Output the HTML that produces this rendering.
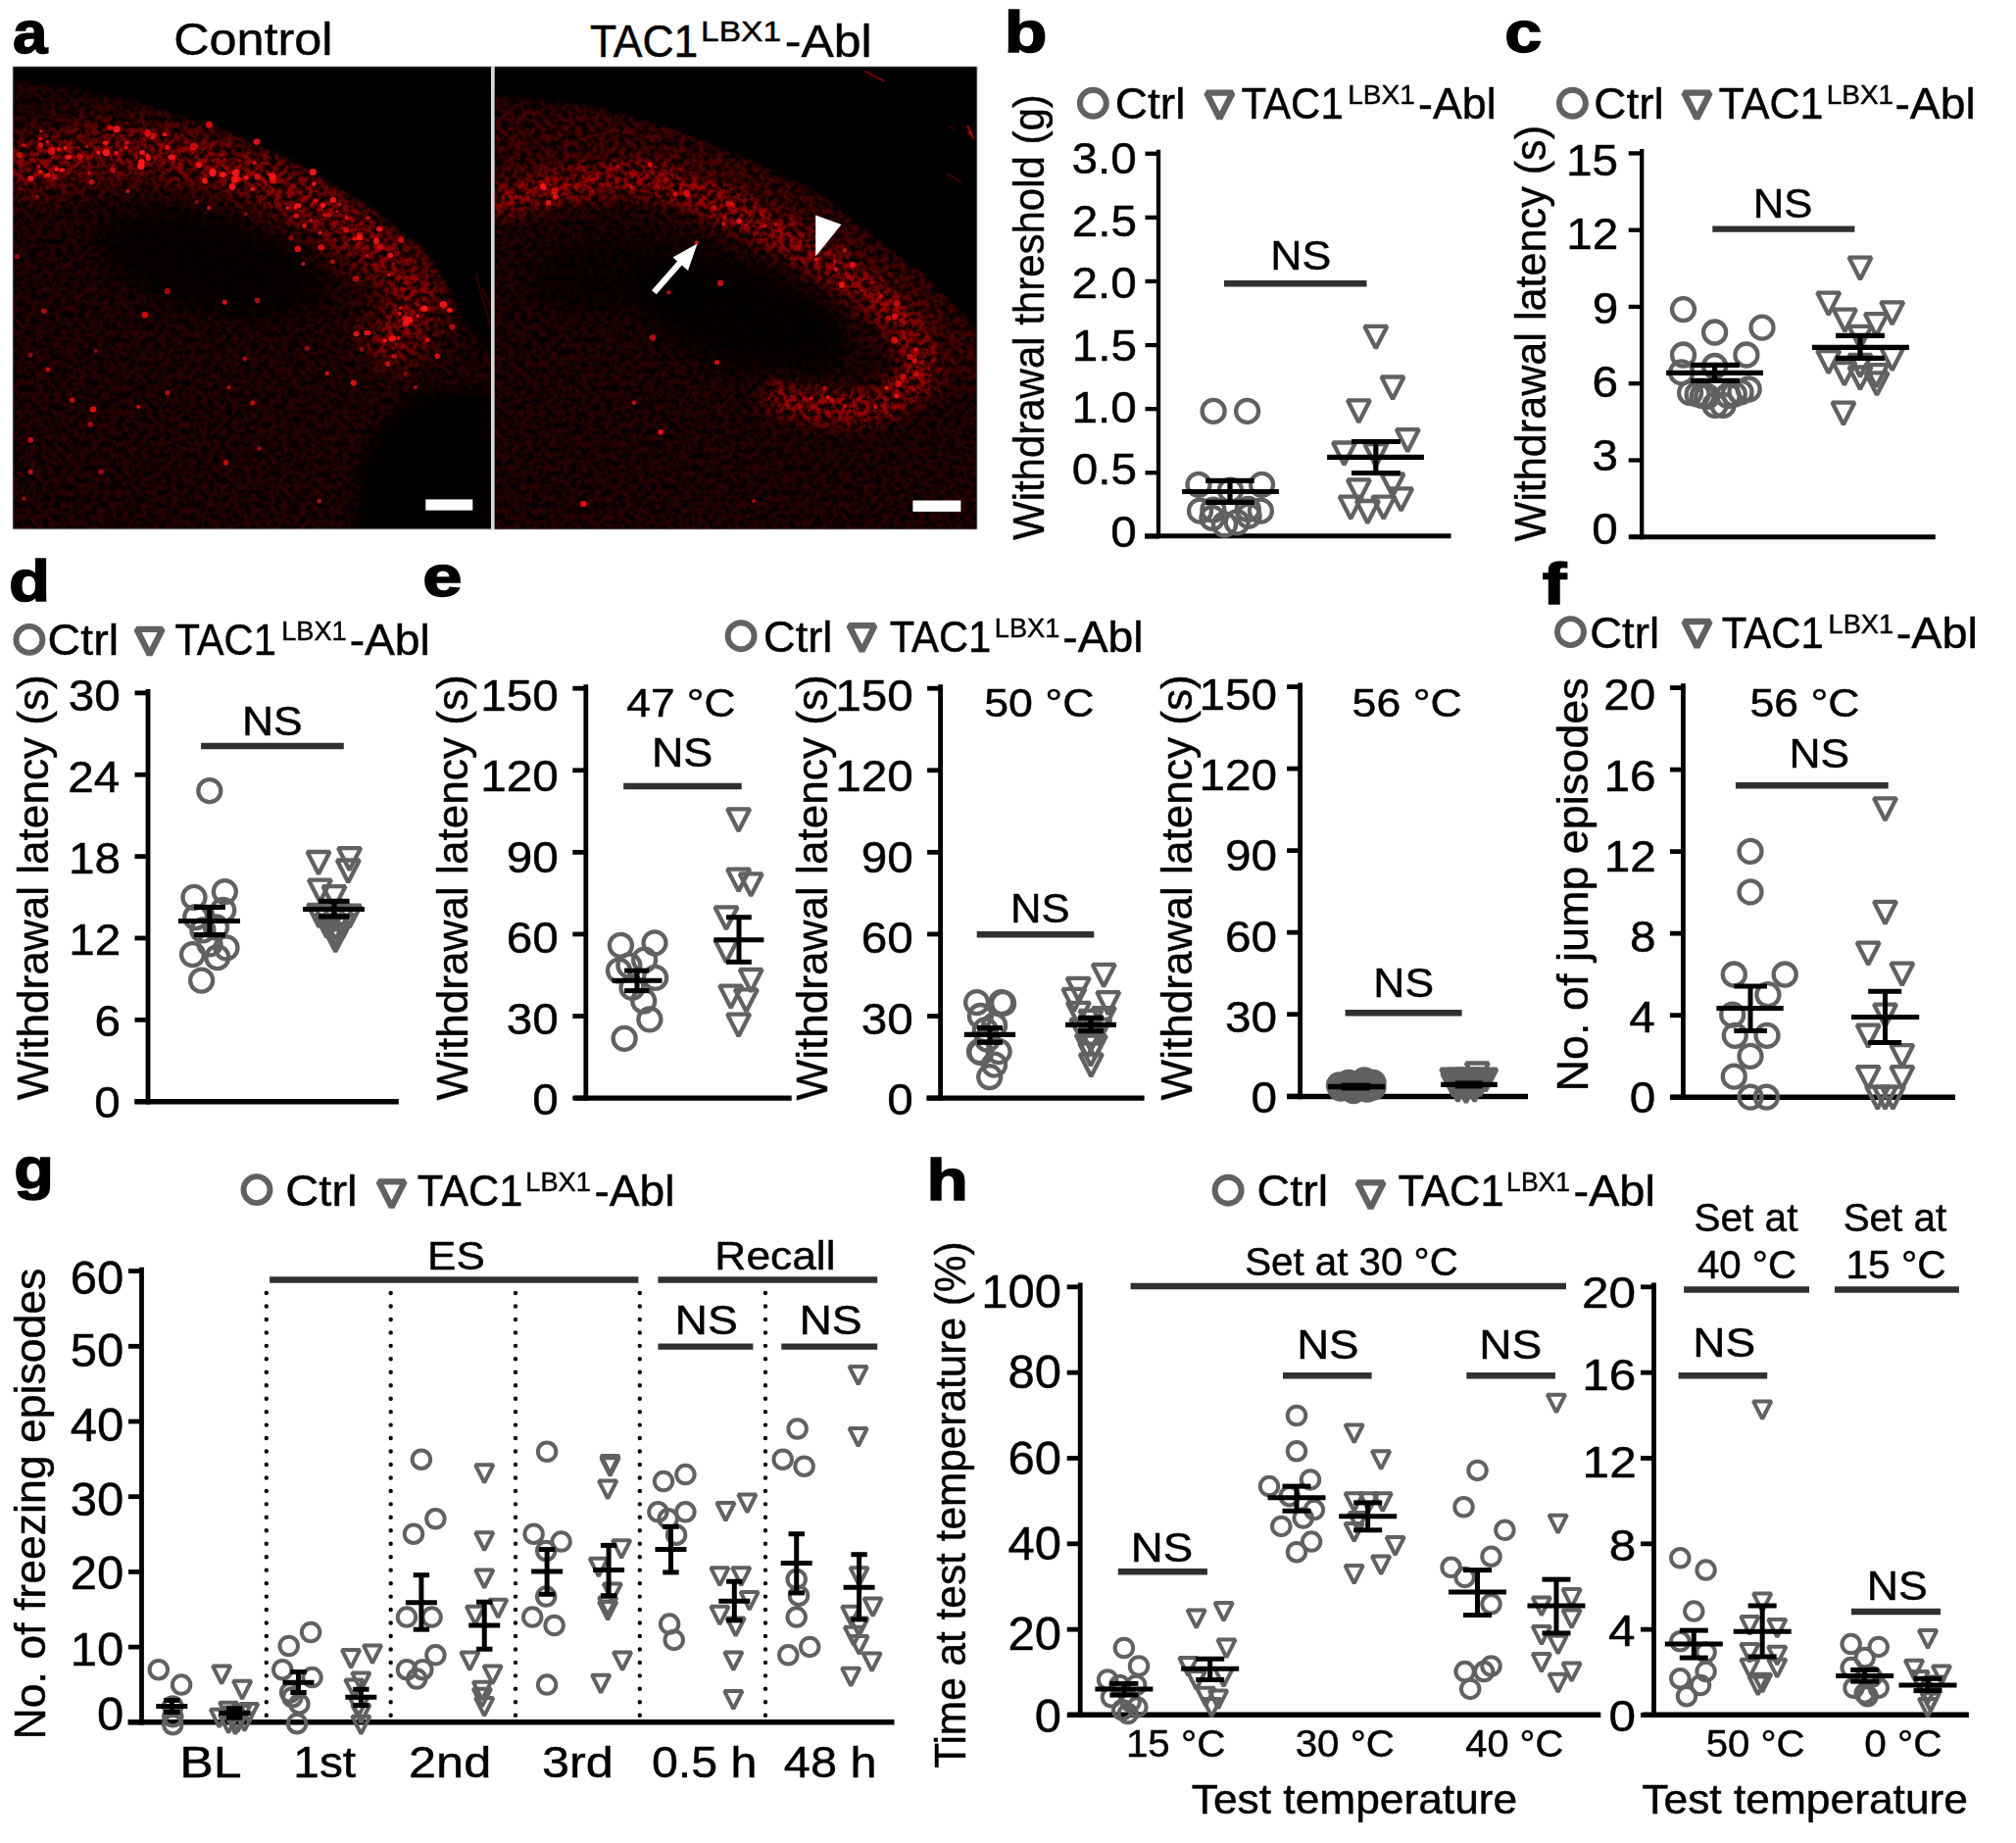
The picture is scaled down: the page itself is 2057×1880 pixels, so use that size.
<!DOCTYPE html>
<html><head><meta charset="utf-8"><title>Figure</title>
<style>html,body{margin:0;padding:0;background:#fff}svg{display:block}text{stroke:#000;stroke-width:.45px}</style>
</head><body>
<svg width="2057" height="1880" viewBox="0 0 2057 1880" font-family="'Liberation Sans', sans-serif">
<rect width="2057" height="1880" fill="#fff"/>
<text x="13.13" y="53.80" font-size="62.00" textLength="35.46" lengthAdjust="spacingAndGlyphs" font-weight="bold" fill="#000" style="stroke:#000;stroke-width:1.5px">a</text>
<text x="177.24" y="56.20" font-size="47.00" textLength="162.33" lengthAdjust="spacingAndGlyphs" fill="#000">Control</text>
<text x="601.93" y="57.70" font-size="47.00" textLength="110.38" lengthAdjust="spacingAndGlyphs" fill="#000">TAC1</text>
<text x="715.05" y="41.50" font-size="29.00" textLength="82.09" lengthAdjust="spacingAndGlyphs" fill="#000">LBX1</text>
<text x="800.88" y="57.70" font-size="47.00" textLength="88.86" lengthAdjust="spacingAndGlyphs" fill="#000">-Abl</text>
<defs>
<filter id="bl4" x="-20%" y="-20%" width="140%" height="140%"><feGaussianBlur stdDeviation="4"/></filter>
<filter id="bl8" x="-30%" y="-30%" width="160%" height="160%"><feGaussianBlur stdDeviation="8"/></filter>
<filter id="bl14" x="-40%" y="-40%" width="180%" height="180%"><feGaussianBlur stdDeviation="14"/></filter>
<filter id="bl1"><feGaussianBlur stdDeviation="0.7"/></filter>
<filter id="tex" filterUnits="userSpaceOnUse" x="0" y="60" width="1010" height="490" color-interpolation-filters="sRGB">
 <feTurbulence type="fractalNoise" baseFrequency="0.16" numOctaves="3" seed="7" result="n"/>
 <feColorMatrix in="n" type="matrix" values="3.2 0 0 0 -1.1  3.2 0 0 0 -1.1  3.2 0 0 0 -1.1  0 0 0 0 1" result="g"/>
 <feComposite in="SourceGraphic" in2="g" operator="arithmetic" k1="1.7" k2="0.25" k3="0" k4="0"/>
</filter>
<clipPath id="cl"><rect x="13.6" y="68.4" width="487.4" height="470.8"/></clipPath>
<clipPath id="cr"><rect x="504.8" y="68.4" width="491.6" height="471"/></clipPath>
</defs>
<rect x="12.6" y="67.4" width="985" height="473" fill="#bbb"/>
<rect x="13.6" y="68.4" width="487.4" height="470.8" fill="#000"/>
<rect x="501" y="67.4" width="3.8" height="473" fill="#d8d8d8"/>
<rect x="504.8" y="68.4" width="491.6" height="471" fill="#000"/>
<g clip-path="url(#cl)"><g filter="url(#tex)">
<rect x="13.6" y="68.4" width="487.4" height="470.8" fill="#000"/>
<clipPath id="tl"><polygon points="10.9,82.6 81.4,90.7 135.6,104.3 217.0,128.7 298.4,163.9 379.8,212.8 434.1,256.2 458.5,294.2 469.3,324.0 504.6,367.4 504.6,546.5 10.9,546.5"/></clipPath>
<polygon points="10.9,82.6 81.4,90.7 135.6,104.3 217.0,128.7 298.4,163.9 379.8,212.8 434.1,256.2 458.5,294.2 469.3,324.0 504.6,367.4 504.6,546.5 10.9,546.5" fill="#190000" filter="url(#bl4)"/>
<g clip-path="url(#tl)">
<path d="M8.1 176.2C20.3 173.0 55.6 160.6 81.4 157.2C107.2 153.8 135.6 153.1 162.8 155.8C189.9 158.5 217.0 163.9 244.2 173.4C271.3 182.9 301.6 198.5 325.6 212.8C349.5 227.0 371.7 245.3 388.0 258.9C404.2 272.5 418.2 282.9 423.2 294.2C428.2 305.5 424.1 315.4 417.8 326.7C411.5 338.0 390.7 356.1 385.2 362.0" fill="none" stroke="#400000" stroke-width="62" filter="url(#bl14)"/>
<path d="M8.1 176.2C20.3 173.0 55.6 160.6 81.4 157.2C107.2 153.8 135.6 153.1 162.8 155.8C189.9 158.5 217.0 163.9 244.2 173.4C271.3 182.9 301.6 198.5 325.6 212.8C349.5 227.0 371.7 245.3 388.0 258.9C404.2 272.5 418.2 282.9 423.2 294.2C428.2 305.5 424.1 315.4 417.8 326.7C411.5 338.0 390.7 356.1 385.2 362.0" fill="none" stroke="#500000" stroke-width="26" filter="url(#bl8)" opacity="0.8"/>
</g>
<ellipse cx="214.3" cy="269.8" rx="118" ry="48" transform="rotate(14 214.3 269.8)" fill="#000" opacity="0.8" filter="url(#bl14)"/>
<polygon points="506.0,398.7 425.9,398.7 388.3,433.2 368.2,475.8 359.7,548.5 506.0,548.5" fill="#000" opacity="0.92" filter="url(#bl8)"/>
</g>
<g filter="url(#bl1)">
<ellipse cx="262.1" cy="144.6" rx="3.6" ry="3.1" fill="#ff1414" opacity="0.83"/>
<ellipse cx="259.6" cy="166.1" rx="2.3" ry="1.8" fill="#ff1414" opacity="0.80"/>
<ellipse cx="278.1" cy="180.2" rx="3.5" ry="3.7" fill="#ff1414" opacity="0.88"/>
<ellipse cx="278.6" cy="184.2" rx="3.8" ry="3.1" fill="#ff1414" opacity="0.67"/>
<ellipse cx="331.6" cy="219.6" rx="2.6" ry="2.1" fill="#ff1414" opacity="0.69"/>
<ellipse cx="170.6" cy="150.5" rx="2.6" ry="2.4" fill="#ff1414" opacity="0.80"/>
<ellipse cx="57.7" cy="172.6" rx="2.3" ry="2.4" fill="#ff1414" opacity="0.99"/>
<ellipse cx="24.3" cy="148.3" rx="2.6" ry="1.9" fill="#ff1414" opacity="0.61"/>
<ellipse cx="375.0" cy="339.5" rx="3.6" ry="2.6" fill="#ff1414" opacity="0.88"/>
<ellipse cx="329.5" cy="209.4" rx="2.9" ry="2.4" fill="#ff1414" opacity="0.92"/>
<ellipse cx="91.0" cy="176.5" rx="1.6" ry="1.2" fill="#ff1414" opacity="0.78"/>
<ellipse cx="39.7" cy="169.9" rx="1.7" ry="1.7" fill="#ff1414" opacity="0.69"/>
<ellipse cx="108.3" cy="156.9" rx="1.9" ry="1.4" fill="#ff1414" opacity="0.85"/>
<ellipse cx="251.3" cy="181.3" rx="2.6" ry="2.5" fill="#ff1414" opacity="0.86"/>
<ellipse cx="239.2" cy="183.2" rx="3.5" ry="3.7" fill="#ff1414" opacity="0.87"/>
<ellipse cx="346.8" cy="208.4" rx="2.1" ry="1.8" fill="#ff1414" opacity="0.67"/>
<ellipse cx="274.4" cy="177.8" rx="1.6" ry="1.4" fill="#ff1414" opacity="0.89"/>
<ellipse cx="155.4" cy="140.8" rx="2.0" ry="1.6" fill="#ff1414" opacity="0.74"/>
<ellipse cx="363.6" cy="340.3" rx="3.2" ry="2.9" fill="#ff1414" opacity="0.85"/>
<ellipse cx="367.0" cy="242.4" rx="3.3" ry="2.9" fill="#ff1414" opacity="0.92"/>
<ellipse cx="175.1" cy="160.2" rx="3.7" ry="2.7" fill="#ff1414" opacity="0.97"/>
<ellipse cx="48.1" cy="179.3" rx="3.3" ry="2.5" fill="#ff1414" opacity="0.78"/>
<ellipse cx="409.1" cy="244.6" rx="3.0" ry="3.2" fill="#ff1414" opacity="0.75"/>
<ellipse cx="209.1" cy="184.4" rx="2.9" ry="3.1" fill="#ff1414" opacity="0.92"/>
<ellipse cx="400.4" cy="345.2" rx="3.8" ry="3.3" fill="#ff1414" opacity="0.86"/>
<ellipse cx="118.8" cy="156.1" rx="2.1" ry="2.0" fill="#ff1414" opacity="0.93"/>
<ellipse cx="461.3" cy="333.6" rx="3.1" ry="3.0" fill="#ff1414" opacity="0.69"/>
<ellipse cx="216.9" cy="176.1" rx="3.7" ry="4.0" fill="#ff1414" opacity="0.99"/>
<ellipse cx="41.5" cy="147.8" rx="2.8" ry="2.9" fill="#ff1414" opacity="0.73"/>
<ellipse cx="150.8" cy="135.8" rx="3.7" ry="3.8" fill="#ff1414" opacity="0.74"/>
<ellipse cx="48.5" cy="144.5" rx="1.8" ry="1.6" fill="#ff1414" opacity="0.82"/>
<ellipse cx="362.9" cy="284.5" rx="3.4" ry="3.0" fill="#ff1414" opacity="0.61"/>
<ellipse cx="69.8" cy="160.3" rx="3.5" ry="2.5" fill="#ff1414" opacity="0.92"/>
<ellipse cx="41.3" cy="175.2" rx="2.0" ry="1.7" fill="#ff1414" opacity="0.92"/>
<ellipse cx="396.8" cy="280.4" rx="1.9" ry="1.5" fill="#ff1414" opacity="0.81"/>
<ellipse cx="237.0" cy="190.4" rx="3.3" ry="3.4" fill="#ff1414" opacity="0.88"/>
<ellipse cx="108.5" cy="155.7" rx="3.8" ry="3.4" fill="#ff1414" opacity="0.98"/>
<ellipse cx="343.7" cy="215.7" rx="1.8" ry="1.4" fill="#ff1414" opacity="0.81"/>
<ellipse cx="66.5" cy="151.0" rx="2.3" ry="2.2" fill="#ff1414" opacity="0.86"/>
<ellipse cx="151.3" cy="161.3" rx="2.8" ry="2.9" fill="#ff1414" opacity="0.82"/>
<ellipse cx="392.6" cy="347.4" rx="2.3" ry="2.0" fill="#ff1414" opacity="0.94"/>
<ellipse cx="432.8" cy="314.9" rx="3.7" ry="2.9" fill="#ff1414" opacity="0.94"/>
<ellipse cx="118.9" cy="131.8" rx="3.8" ry="3.5" fill="#ff1414" opacity="0.83"/>
<ellipse cx="326.4" cy="237.5" rx="2.1" ry="1.9" fill="#ff1414" opacity="0.80"/>
<ellipse cx="63.3" cy="173.3" rx="3.0" ry="2.1" fill="#ff1414" opacity="0.99"/>
<ellipse cx="145.0" cy="155.4" rx="2.8" ry="2.4" fill="#ff1414" opacity="0.92"/>
<ellipse cx="398.3" cy="260.3" rx="2.9" ry="2.6" fill="#ff1414" opacity="0.88"/>
<ellipse cx="49.4" cy="177.6" rx="1.8" ry="1.6" fill="#ff1414" opacity="0.77"/>
<ellipse cx="52.6" cy="153.9" rx="3.8" ry="4.1" fill="#ff1414" opacity="0.71"/>
<ellipse cx="322.3" cy="204.6" rx="2.7" ry="2.0" fill="#ff1414" opacity="0.77"/>
<ellipse cx="213.4" cy="127.1" rx="3.5" ry="3.7" fill="#ff1414" opacity="0.79"/>
<ellipse cx="257.5" cy="192.9" rx="2.3" ry="1.8" fill="#ff1414" opacity="0.85"/>
<ellipse cx="303.8" cy="209.8" rx="3.7" ry="2.8" fill="#ff1414" opacity="0.91"/>
<ellipse cx="88.7" cy="149.5" rx="1.7" ry="1.3" fill="#ff1414" opacity="0.69"/>
<ellipse cx="413.1" cy="324.5" rx="3.2" ry="2.6" fill="#ff1414" opacity="0.74"/>
<ellipse cx="107.9" cy="145.7" rx="3.0" ry="2.2" fill="#ff1414" opacity="0.89"/>
<ellipse cx="374.4" cy="261.1" rx="1.9" ry="1.7" fill="#ff1414" opacity="0.70"/>
<ellipse cx="406.3" cy="344.9" rx="2.1" ry="1.9" fill="#ff1414" opacity="0.77"/>
<ellipse cx="433.5" cy="313.6" rx="2.5" ry="2.1" fill="#ff1414" opacity="0.81"/>
<ellipse cx="59.8" cy="152.3" rx="2.0" ry="1.5" fill="#ff1414" opacity="0.85"/>
<ellipse cx="31.2" cy="182.0" rx="3.1" ry="2.8" fill="#ff1414" opacity="0.94"/>
<ellipse cx="366.7" cy="239.8" rx="3.0" ry="3.1" fill="#ff1414" opacity="0.69"/>
<ellipse cx="144.4" cy="165.7" rx="3.3" ry="3.4" fill="#ff1414" opacity="0.96"/>
<ellipse cx="168.0" cy="137.2" rx="2.3" ry="1.9" fill="#ff1414" opacity="0.97"/>
<ellipse cx="100.3" cy="155.7" rx="2.1" ry="2.3" fill="#ff1414" opacity="0.96"/>
<ellipse cx="128.8" cy="150.4" rx="1.9" ry="1.5" fill="#ff1414" opacity="0.89"/>
<ellipse cx="293.6" cy="212.0" rx="2.2" ry="1.6" fill="#ff1414" opacity="0.93"/>
<ellipse cx="156.5" cy="138.2" rx="2.6" ry="2.6" fill="#ff1414" opacity="0.65"/>
<ellipse cx="414.9" cy="328.7" rx="2.5" ry="2.5" fill="#ff1414" opacity="0.61"/>
<ellipse cx="150.9" cy="158.8" rx="2.1" ry="2.0" fill="#ff1414" opacity="0.96"/>
<ellipse cx="242.2" cy="182.5" rx="3.8" ry="2.9" fill="#ff1414" opacity="0.80"/>
<ellipse cx="202.8" cy="168.3" rx="3.3" ry="3.0" fill="#ff1414" opacity="0.87"/>
<ellipse cx="301.1" cy="212.4" rx="2.0" ry="1.5" fill="#ff1414" opacity="0.64"/>
<ellipse cx="408.6" cy="314.2" rx="1.7" ry="1.6" fill="#ff1414" opacity="0.81"/>
<ellipse cx="402.3" cy="363.4" rx="2.9" ry="2.2" fill="#ff1414" opacity="0.67"/>
<ellipse cx="320.4" cy="187.6" rx="2.1" ry="2.1" fill="#ff1414" opacity="1.00"/>
<ellipse cx="81.4" cy="160.1" rx="3.7" ry="2.8" fill="#ff1414" opacity="0.62"/>
<ellipse cx="417.2" cy="326.2" rx="3.8" ry="3.4" fill="#ff1414" opacity="0.91"/>
<ellipse cx="361.6" cy="243.4" rx="2.4" ry="2.1" fill="#ff1414" opacity="0.81"/>
<ellipse cx="335.9" cy="219.5" rx="2.6" ry="2.4" fill="#ff1414" opacity="0.61"/>
<ellipse cx="262.6" cy="180.5" rx="3.2" ry="3.3" fill="#ff1414" opacity="0.67"/>
<ellipse cx="395.7" cy="371.2" rx="2.6" ry="2.6" fill="#ff1414" opacity="0.76"/>
<ellipse cx="41.1" cy="141.7" rx="2.0" ry="1.6" fill="#ff1414" opacity="0.81"/>
<ellipse cx="426.1" cy="322.2" rx="1.6" ry="1.7" fill="#ff1414" opacity="0.92"/>
<ellipse cx="384.0" cy="245.9" rx="3.2" ry="3.4" fill="#ff1414" opacity="0.85"/>
<ellipse cx="436.3" cy="346.8" rx="2.5" ry="2.4" fill="#ff1414" opacity="0.80"/>
<ellipse cx="197.6" cy="149.4" rx="3.9" ry="3.9" fill="#ff1414" opacity="0.70"/>
<ellipse cx="452.5" cy="310.7" rx="3.7" ry="3.7" fill="#ff1414" opacity="0.91"/>
<ellipse cx="227.4" cy="178.0" rx="3.5" ry="3.0" fill="#ff1414" opacity="0.96"/>
<ellipse cx="319.3" cy="175.4" rx="3.6" ry="3.5" fill="#ff1414" opacity="0.91"/>
<ellipse cx="339.9" cy="203.9" rx="3.4" ry="2.9" fill="#ff1414" opacity="0.89"/>
<ellipse cx="317.2" cy="224.6" rx="1.8" ry="1.5" fill="#ff1414" opacity="0.79"/>
<ellipse cx="41.9" cy="133.9" rx="1.6" ry="1.4" fill="#ff1414" opacity="0.86"/>
<ellipse cx="458.9" cy="316.5" rx="3.0" ry="2.4" fill="#ff1414" opacity="0.98"/>
<ellipse cx="387.2" cy="233.6" rx="3.1" ry="2.6" fill="#ff1414" opacity="0.86"/>
<ellipse cx="302.5" cy="220.3" rx="2.9" ry="2.7" fill="#ff1414" opacity="0.76"/>
<ellipse cx="240.7" cy="176.3" rx="3.9" ry="3.7" fill="#ff1414" opacity="0.88"/>
<ellipse cx="388.3" cy="252.1" rx="3.4" ry="3.7" fill="#ff1414" opacity="0.61"/>
<ellipse cx="20.0" cy="157.9" rx="3.0" ry="3.0" fill="#ff1414" opacity="0.70"/>
<ellipse cx="129.7" cy="145.5" rx="2.5" ry="1.8" fill="#ff1414" opacity="0.68"/>
<ellipse cx="375.5" cy="222.2" rx="2.5" ry="1.8" fill="#ff1414" opacity="0.70"/>
<ellipse cx="414.1" cy="330.2" rx="3.7" ry="3.4" fill="#ff1414" opacity="0.80"/>
<ellipse cx="143.9" cy="169.6" rx="3.8" ry="3.5" fill="#ff1414" opacity="1.00"/>
<ellipse cx="353.1" cy="234.3" rx="3.1" ry="3.1" fill="#ff1414" opacity="0.63"/>
<ellipse cx="115.2" cy="173.4" rx="3.0" ry="3.0" fill="#ff1414" opacity="0.62"/>
<ellipse cx="327.7" cy="252.2" rx="3.7" ry="2.9" fill="#ff1414" opacity="0.79"/>
<ellipse cx="239.8" cy="183.8" rx="2.0" ry="1.8" fill="#ff1414" opacity="0.84"/>
<ellipse cx="353.7" cy="222.4" rx="1.7" ry="1.9" fill="#ff1414" opacity="0.77"/>
<ellipse cx="112.3" cy="130.4" rx="2.8" ry="2.6" fill="#ff1414" opacity="0.75"/>
<ellipse cx="407.7" cy="319.7" rx="2.3" ry="2.2" fill="#ff1414" opacity="0.82"/>
<circle cx="130.2" cy="195.1" r="2.2" fill="#f01010" opacity="0.82"/>
<circle cx="200.8" cy="206.0" r="2.2" fill="#f01010" opacity="0.51"/>
<circle cx="250.9" cy="218.2" r="2.1" fill="#f01010" opacity="0.52"/>
<circle cx="213.0" cy="212.0" r="2.0" fill="#f01010" opacity="0.84"/>
<circle cx="310.6" cy="230.4" r="2.3" fill="#f01010" opacity="0.90"/>
<circle cx="297.1" cy="242.6" r="2.8" fill="#f01010" opacity="0.52"/>
<circle cx="303.9" cy="254.0" r="3.2" fill="#f01010" opacity="0.93"/>
<circle cx="309.3" cy="269.2" r="1.9" fill="#f01010" opacity="0.91"/>
<circle cx="339.1" cy="267.0" r="2.4" fill="#f01010" opacity="0.71"/>
<circle cx="170.9" cy="296.9" r="3.2" fill="#f01010" opacity="0.61"/>
<circle cx="229.2" cy="308.3" r="2.5" fill="#f01010" opacity="0.92"/>
<circle cx="262.6" cy="306.4" r="2.8" fill="#f01010" opacity="0.71"/>
<circle cx="147.9" cy="321.3" r="3.2" fill="#f01010" opacity="0.87"/>
<circle cx="17.6" cy="261.6" r="2.6" fill="#f01010" opacity="0.55"/>
<circle cx="44.8" cy="317.2" r="2.7" fill="#f01010" opacity="0.71"/>
<circle cx="97.7" cy="357.9" r="2.1" fill="#f01010" opacity="0.52"/>
<circle cx="31.2" cy="362.0" r="2.5" fill="#f01010" opacity="0.56"/>
<circle cx="48.8" cy="376.9" r="2.4" fill="#f01010" opacity="0.80"/>
<circle cx="249.6" cy="366.1" r="2.4" fill="#f01010" opacity="0.62"/>
<circle cx="170.9" cy="400.8" r="2.6" fill="#f01010" opacity="0.69"/>
<circle cx="73.8" cy="408.1" r="2.9" fill="#f01010" opacity="0.74"/>
<circle cx="95.0" cy="417.6" r="3.2" fill="#f01010" opacity="0.93"/>
<circle cx="92.2" cy="433.1" r="2.8" fill="#f01010" opacity="0.61"/>
<circle cx="141.1" cy="414.9" r="2.0" fill="#f01010" opacity="0.90"/>
<circle cx="31.2" cy="448.8" r="2.9" fill="#f01010" opacity="0.78"/>
<circle cx="264.5" cy="457.5" r="2.3" fill="#f01010" opacity="0.62"/>
<circle cx="230.6" cy="471.9" r="2.8" fill="#f01010" opacity="0.75"/>
<circle cx="31.2" cy="481.4" r="2.6" fill="#f01010" opacity="0.78"/>
<circle cx="103.1" cy="481.4" r="2.9" fill="#f01010" opacity="0.59"/>
<circle cx="333.7" cy="381.0" r="2.1" fill="#f01010" opacity="0.94"/>
<circle cx="360.8" cy="390.5" r="3.1" fill="#f01010" opacity="0.90"/>
<circle cx="413.7" cy="381.0" r="1.9" fill="#f01010" opacity="0.53"/>
<circle cx="423.8" cy="395.1" r="2.2" fill="#f01010" opacity="0.69"/>
<circle cx="313.3" cy="355.2" r="2.7" fill="#f01010" opacity="0.55"/>
<circle cx="369.0" cy="356.6" r="2.6" fill="#f01010" opacity="0.53"/>
<circle cx="233.3" cy="395.1" r="1.9" fill="#f01010" opacity="0.80"/>
<circle cx="257.7" cy="410.8" r="2.6" fill="#f01010" opacity="0.78"/>
<circle cx="325.6" cy="511.2" r="2.3" fill="#f01010" opacity="0.72"/>
<circle cx="24.4" cy="508.5" r="2.1" fill="#f01010" opacity="0.65"/>
<circle cx="446.3" cy="363.3" r="2.8" fill="#f01010" opacity="0.88"/>
<circle cx="38.0" cy="200.6" r="1.9" fill="#f01010" opacity="0.55"/>
<circle cx="93.6" cy="185.6" r="2.9" fill="#f01010" opacity="0.78"/>
<circle cx="55.6" cy="180.2" r="2.9" fill="#f01010" opacity="0.60"/>
</g>
</g>
<g clip-path="url(#cr)"><g filter="url(#tex)">
<rect x="504.8" y="68.4" width="491.6" height="471" fill="#000"/>
<clipPath id="tr"><polygon points="500.4,97.5 603.5,108.3 684.9,131.4 766.3,163.9 834.1,196.5 888.4,239.9 942.6,280.6 983.3,321.3 1002.3,348.4 1002.3,546.5 500.4,546.5"/></clipPath>
<polygon points="500.4,97.5 603.5,108.3 684.9,131.4 766.3,163.9 834.1,196.5 888.4,239.9 942.6,280.6 983.3,321.3 1002.3,348.4 1002.3,546.5 500.4,546.5" fill="#150000" filter="url(#bl4)"/>
<g clip-path="url(#tr)">
<path d="M500.4 158.5C513.1 157.6 550.2 152.6 576.4 153.1C602.6 153.5 630.6 154.9 657.8 161.2C684.9 167.6 712.0 178.0 739.2 191.1C766.3 204.2 795.7 223.6 820.6 239.9C845.4 256.2 868.0 272.9 888.4 288.7C908.7 304.6 927.7 318.1 942.6 334.9C957.6 351.6 972.0 380.1 977.9 389.1" fill="none" stroke="#280000" stroke-width="85" filter="url(#bl14)"/>
<path d="M500.4 207.4C513.1 204.4 550.2 194.0 576.4 189.7C602.6 185.4 631.6 178.6 657.8 181.6C684.0 184.5 708.9 196.7 733.7 207.4C758.6 218.0 785.7 233.1 807.0 245.3C828.2 257.5 843.2 267.9 861.3 280.6C879.3 293.3 902.4 305.9 915.5 321.3C928.6 336.7 941.3 358.4 939.9 372.8C938.6 387.3 923.2 400.9 907.4 408.1C891.5 415.3 865.8 417.6 845.0 416.3C824.2 414.9 793.0 402.7 782.6 400.0" fill="none" stroke="#520000" stroke-width="34" filter="url(#bl8)"/>
</g>
<ellipse cx="755.4" cy="321.3" rx="115" ry="52" transform="rotate(18 755.4 321.3)" fill="#000" opacity="0.85" filter="url(#bl14)"/>
<ellipse cx="617.1" cy="280.6" rx="85" ry="40" transform="rotate(-5 617.1 280.6)" fill="#000" opacity="0.55" filter="url(#bl14)"/>
</g>
<g filter="url(#bl1)">
<circle cx="780.1" cy="230.4" r="1.8" fill="#ff1414" opacity="0.74"/>
<circle cx="738.3" cy="228.2" r="1.9" fill="#ff1414" opacity="0.79"/>
<circle cx="906.2" cy="324.3" r="2.9" fill="#ff1414" opacity="0.56"/>
<circle cx="853.1" cy="274.7" r="2.0" fill="#ff1414" opacity="0.79"/>
<circle cx="933.2" cy="367.8" r="2.6" fill="#ff1414" opacity="0.79"/>
<circle cx="748.1" cy="209.7" r="2.4" fill="#ff1414" opacity="0.60"/>
<circle cx="566.0" cy="194.8" r="3.5" fill="#ff1414" opacity="0.75"/>
<circle cx="555.4" cy="191.9" r="2.6" fill="#ff1414" opacity="0.69"/>
<circle cx="870.0" cy="270.1" r="3.0" fill="#ff1414" opacity="0.77"/>
<circle cx="700.6" cy="197.5" r="3.4" fill="#ff1414" opacity="0.63"/>
<circle cx="921.6" cy="384.6" r="3.3" fill="#ff1414" opacity="0.75"/>
<circle cx="913.0" cy="322.7" r="3.3" fill="#ff1414" opacity="0.81"/>
<circle cx="554.1" cy="190.0" r="3.3" fill="#ff1414" opacity="0.85"/>
<circle cx="912.6" cy="347.1" r="3.5" fill="#ff1414" opacity="0.74"/>
<circle cx="689.0" cy="197.7" r="2.6" fill="#ff1414" opacity="0.77"/>
<circle cx="928.4" cy="363.9" r="3.2" fill="#ff1414" opacity="0.64"/>
<circle cx="739.5" cy="222.1" r="2.4" fill="#ff1414" opacity="0.52"/>
<circle cx="858.9" cy="290.7" r="3.1" fill="#ff1414" opacity="0.90"/>
<circle cx="841.4" cy="396.2" r="2.4" fill="#ff1414" opacity="0.53"/>
<circle cx="791.4" cy="229.0" r="2.0" fill="#ff1414" opacity="0.64"/>
<circle cx="914.7" cy="404.0" r="2.2" fill="#ff1414" opacity="0.89"/>
<circle cx="761.2" cy="229.9" r="1.7" fill="#ff1414" opacity="0.59"/>
<circle cx="827.4" cy="406.1" r="1.8" fill="#ff1414" opacity="0.74"/>
<circle cx="743.4" cy="207.6" r="3.2" fill="#ff1414" opacity="0.53"/>
<circle cx="746.5" cy="207.3" r="1.7" fill="#ff1414" opacity="0.66"/>
<circle cx="754.1" cy="225.6" r="2.8" fill="#ff1414" opacity="0.86"/>
<circle cx="630.7" cy="169.4" r="1.7" fill="#ff1414" opacity="0.50"/>
<circle cx="851.6" cy="266.8" r="2.0" fill="#ff1414" opacity="0.55"/>
<circle cx="893.2" cy="415.2" r="2.1" fill="#ff1414" opacity="0.77"/>
<circle cx="934.9" cy="381.4" r="2.8" fill="#ff1414" opacity="0.55"/>
<circle cx="862.3" cy="414.4" r="2.0" fill="#ff1414" opacity="0.58"/>
<circle cx="832.8" cy="264.3" r="1.9" fill="#ff1414" opacity="0.79"/>
<circle cx="861.9" cy="255.5" r="2.2" fill="#ff1414" opacity="0.70"/>
<circle cx="915.4" cy="309.2" r="3.2" fill="#ff1414" opacity="0.67"/>
<circle cx="904.5" cy="395.8" r="2.1" fill="#ff1414" opacity="0.85"/>
<circle cx="916.5" cy="391.7" r="3.4" fill="#ff1414" opacity="0.60"/>
<circle cx="559.6" cy="206.8" r="2.7" fill="#ff1414" opacity="0.88"/>
<circle cx="848.9" cy="408.5" r="2.6" fill="#ff1414" opacity="0.55"/>
<circle cx="710.7" cy="247.5" r="1.9" fill="#f01010" opacity="0.98"/>
<circle cx="665.9" cy="344.4" r="3.1" fill="#f01010" opacity="0.75"/>
<circle cx="731.6" cy="369.6" r="2.6" fill="#f01010" opacity="0.81"/>
<circle cx="845.0" cy="405.4" r="2.2" fill="#f01010" opacity="1.00"/>
<circle cx="728.3" cy="212.0" r="2.9" fill="#f01010" opacity="0.70"/>
<circle cx="644.2" cy="191.1" r="1.8" fill="#f01010" opacity="0.79"/>
<circle cx="663.2" cy="168.0" r="2.4" fill="#f01010" opacity="0.92"/>
<circle cx="566.9" cy="200.6" r="2.9" fill="#f01010" opacity="0.84"/>
<circle cx="899.2" cy="302.3" r="2.1" fill="#f01010" opacity="0.66"/>
<circle cx="682.2" cy="298.2" r="2.3" fill="#f01010" opacity="0.70"/>
<circle cx="735.1" cy="288.7" r="3.2" fill="#f01010" opacity="0.81"/>
<circle cx="674.1" cy="440.7" r="2.8" fill="#f01010" opacity="1.00"/>
<circle cx="646.9" cy="410.8" r="2.2" fill="#f01010" opacity="0.81"/>
<circle cx="934.5" cy="356.6" r="2.0" fill="#f01010" opacity="0.91"/>
<circle cx="990.1" cy="135.5" r="1.8" fill="#f01010" opacity="0.93"/>
<circle cx="595.4" cy="513.9" r="3.2" fill="#f01010" opacity="0.93"/>
<circle cx="769.0" cy="511.2" r="1.9" fill="#f01010" opacity="0.71"/>
</g>
</g>
<line x1="883.0" y1="73.1" x2="901.9" y2="82.6" stroke="#c00000" stroke-width="2.2" stroke-linecap="round" opacity="0.55" filter="url(#bl1)"/>
<line x1="967.1" y1="177.5" x2="980.6" y2="185.6" stroke="#c00000" stroke-width="2.2" stroke-linecap="round" opacity="0.30" filter="url(#bl1)"/>
<line x1="987.4" y1="128.7" x2="992.8" y2="140.9" stroke="#c00000" stroke-width="2.2" stroke-linecap="round" opacity="0.80" filter="url(#bl1)"/>
<line x1="968.4" y1="128.7" x2="972.5" y2="131.4" stroke="#c00000" stroke-width="2.2" stroke-linecap="round" opacity="0.30" filter="url(#bl1)"/>
<line x1="485.6" y1="280.6" x2="500.5" y2="332.1" stroke="#b00000" stroke-width="2.5" stroke-linecap="round" opacity="0.25" filter="url(#bl1)" clip-path="url(#cl)"/>
<line x1="492.4" y1="294.2" x2="501.9" y2="315.9" stroke="#b00000" stroke-width="2.5" stroke-linecap="round" opacity="0.25" filter="url(#bl1)" clip-path="url(#cl)"/>
<rect x="434.3" y="509.4" width="48" height="11.2" fill="#fff"/>
<rect x="931.4" y="510.5" width="49" height="11.4" fill="#fff"/>
<path d="M667.3 298.2L700 261" stroke="#fff" stroke-width="6.2" fill="none"/>
<polygon points="711.5,248.5 686.5,262.5 702,276" fill="#fff"/>
<polygon points="832.2,219.6 858.5,229 832.2,261.6" fill="#fff"/>
<text x="1024.79" y="52.80" font-size="60.00" textLength="43.64" lengthAdjust="spacingAndGlyphs" font-weight="bold" fill="#000" style="stroke:#000;stroke-width:1.5px">b</text>
<circle cx="1115.3" cy="105.3" r="13.50" fill="none" stroke="#616161" stroke-width="5.90"/>
<text x="1137.66" y="121.00" font-size="45.00" textLength="71.73" lengthAdjust="spacingAndGlyphs" fill="#000">Ctrl</text>
<path d="M1231.2 94.7L1257.6 94.7L1244.4 120.7Z" fill="none" stroke="#616161" stroke-width="6.30" stroke-linejoin="bevel"/>
<text x="1266.58" y="121.00" font-size="45.00" textLength="104.21" lengthAdjust="spacingAndGlyphs" fill="#000">TAC1</text>
<text x="1375.20" y="106.15" font-size="27.00" textLength="68.67" lengthAdjust="spacingAndGlyphs" fill="#000">LBX1</text>
<text x="1447.01" y="121.00" font-size="45.00" textLength="79.58" lengthAdjust="spacingAndGlyphs" fill="#000">-Abl</text>
<line x1="1182.00" y1="152.85" x2="1182.00" y2="549.25" stroke="#000" stroke-width="4.30"/>
<line x1="1168.00" y1="546.80" x2="1480.50" y2="546.80" stroke="#000" stroke-width="4.90"/>
<line x1="1168.50" y1="156.75" x2="1182.00" y2="156.75" stroke="#000" stroke-width="4.30"/>
<text x="1093.55" y="177.44" font-size="45.00" textLength="66.31" lengthAdjust="spacingAndGlyphs">3.0</text>
<line x1="1168.50" y1="221.85" x2="1182.00" y2="221.85" stroke="#000" stroke-width="4.30"/>
<text x="1093.69" y="240.80" font-size="45.00" textLength="66.31" lengthAdjust="spacingAndGlyphs">2.5</text>
<line x1="1168.50" y1="286.95" x2="1182.00" y2="286.95" stroke="#000" stroke-width="4.30"/>
<text x="1093.55" y="304.16" font-size="45.00" textLength="66.31" lengthAdjust="spacingAndGlyphs">2.0</text>
<line x1="1168.50" y1="352.05" x2="1182.00" y2="352.05" stroke="#000" stroke-width="4.30"/>
<text x="1093.69" y="367.51" font-size="45.00" textLength="66.31" lengthAdjust="spacingAndGlyphs">1.5</text>
<line x1="1168.50" y1="417.15" x2="1182.00" y2="417.15" stroke="#000" stroke-width="4.30"/>
<text x="1093.55" y="430.87" font-size="45.00" textLength="66.31" lengthAdjust="spacingAndGlyphs">1.0</text>
<line x1="1168.50" y1="482.25" x2="1182.00" y2="482.25" stroke="#000" stroke-width="4.30"/>
<text x="1093.69" y="494.23" font-size="45.00" textLength="66.31" lengthAdjust="spacingAndGlyphs">0.5</text>
<line x1="1168.50" y1="547.35" x2="1182.00" y2="547.35" stroke="#000" stroke-width="4.30"/>
<text x="1133.33" y="557.59" font-size="45.00" textLength="26.53" lengthAdjust="spacingAndGlyphs">0</text>
<text transform="translate(1064.50 550.80) rotate(-90)" x="-0.18" y="0" font-size="45.00" textLength="454.79" lengthAdjust="spacingAndGlyphs">Withdrawal threshold (g)</text>
<text x="1296.34" y="275.00" font-size="42.00" textLength="62.01" lengthAdjust="spacingAndGlyphs" fill="#000">NS</text>
<line x1="1249.00" y1="289.30" x2="1394.50" y2="289.30" stroke="#303030" stroke-width="6.40"/>
<circle cx="1238.1" cy="419.4" r="11.50" fill="none" stroke="#616161" stroke-width="4.30"/>
<circle cx="1272.6" cy="419.4" r="11.50" fill="none" stroke="#616161" stroke-width="4.30"/>
<circle cx="1223.0" cy="494.4" r="11.50" fill="none" stroke="#616161" stroke-width="4.30"/>
<circle cx="1287.5" cy="494.4" r="11.50" fill="none" stroke="#616161" stroke-width="4.30"/>
<circle cx="1255.5" cy="500.1" r="11.50" fill="none" stroke="#616161" stroke-width="4.30"/>
<circle cx="1224.5" cy="521.2" r="11.50" fill="none" stroke="#616161" stroke-width="4.30"/>
<circle cx="1237.9" cy="520.1" r="11.50" fill="none" stroke="#616161" stroke-width="4.30"/>
<circle cx="1273.3" cy="519.4" r="11.50" fill="none" stroke="#616161" stroke-width="4.30"/>
<circle cx="1286.4" cy="521.2" r="11.50" fill="none" stroke="#616161" stroke-width="4.30"/>
<circle cx="1236.9" cy="528.3" r="11.50" fill="none" stroke="#616161" stroke-width="4.30"/>
<circle cx="1274.1" cy="526.1" r="11.50" fill="none" stroke="#616161" stroke-width="4.30"/>
<circle cx="1249.5" cy="535.0" r="11.50" fill="none" stroke="#616161" stroke-width="4.30"/>
<circle cx="1262.2" cy="532.8" r="11.50" fill="none" stroke="#616161" stroke-width="4.30"/>
<path d="M1392.3 332.9L1415.3 332.9L1403.8 355.3Z" fill="none" stroke="#616161" stroke-width="4.30" stroke-linejoin="bevel"/>
<path d="M1409.5 384.5L1432.5 384.5L1421.0 406.9Z" fill="none" stroke="#616161" stroke-width="4.30" stroke-linejoin="bevel"/>
<path d="M1374.9 408.3L1397.9 408.3L1386.4 430.7Z" fill="none" stroke="#616161" stroke-width="4.30" stroke-linejoin="bevel"/>
<path d="M1424.8 438.1L1447.8 438.1L1436.3 460.5Z" fill="none" stroke="#616161" stroke-width="4.30" stroke-linejoin="bevel"/>
<path d="M1360.0 451.5L1383.0 451.5L1371.5 473.9Z" fill="none" stroke="#616161" stroke-width="4.30" stroke-linejoin="bevel"/>
<path d="M1392.3 453.0L1415.3 453.0L1403.8 475.4Z" fill="none" stroke="#616161" stroke-width="4.30" stroke-linejoin="bevel"/>
<path d="M1374.9 489.4L1397.9 489.4L1386.4 511.8Z" fill="none" stroke="#616161" stroke-width="4.30" stroke-linejoin="bevel"/>
<path d="M1409.5 483.5L1432.5 483.5L1421.0 505.9Z" fill="none" stroke="#616161" stroke-width="4.30" stroke-linejoin="bevel"/>
<path d="M1418.1 498.4L1441.1 498.4L1429.6 520.8Z" fill="none" stroke="#616161" stroke-width="4.30" stroke-linejoin="bevel"/>
<path d="M1366.7 506.6L1389.7 506.6L1378.2 529.0Z" fill="none" stroke="#616161" stroke-width="4.30" stroke-linejoin="bevel"/>
<path d="M1383.9 511.0L1406.9 511.0L1395.4 533.4Z" fill="none" stroke="#616161" stroke-width="4.30" stroke-linejoin="bevel"/>
<path d="M1400.2 506.6L1423.2 506.6L1411.7 529.0Z" fill="none" stroke="#616161" stroke-width="4.30" stroke-linejoin="bevel"/>
<line x1="1206.10" y1="501.50" x2="1304.90" y2="501.50" stroke="#000" stroke-width="5.20"/>
<line x1="1230.20" y1="490.40" x2="1279.70" y2="490.40" stroke="#000" stroke-width="5.20"/>
<line x1="1230.20" y1="512.40" x2="1279.70" y2="512.40" stroke="#000" stroke-width="5.20"/>
<line x1="1255.00" y1="490.40" x2="1255.00" y2="512.40" stroke="#000" stroke-width="5.20"/>
<line x1="1354.10" y1="466.30" x2="1452.90" y2="466.30" stroke="#000" stroke-width="5.20"/>
<line x1="1379.00" y1="450.50" x2="1428.80" y2="450.50" stroke="#000" stroke-width="5.20"/>
<line x1="1379.00" y1="482.50" x2="1428.80" y2="482.50" stroke="#000" stroke-width="5.20"/>
<line x1="1403.80" y1="450.50" x2="1403.80" y2="482.50" stroke="#000" stroke-width="5.20"/>
<text x="1535.33" y="52.80" font-size="60.00" textLength="37.97" lengthAdjust="spacingAndGlyphs" font-weight="bold" fill="#000" style="stroke:#000;stroke-width:1.5px">c</text>
<circle cx="1604.4" cy="105.3" r="13.50" fill="none" stroke="#616161" stroke-width="5.90"/>
<text x="1626.26" y="121.00" font-size="45.00" textLength="71.51" lengthAdjust="spacingAndGlyphs" fill="#000">Ctrl</text>
<path d="M1718.3 94.7L1744.7 94.7L1731.5 120.7Z" fill="none" stroke="#616161" stroke-width="6.30" stroke-linejoin="bevel"/>
<text x="1753.56" y="121.00" font-size="45.00" textLength="106.88" lengthAdjust="spacingAndGlyphs" fill="#000">TAC1</text>
<text x="1863.70" y="106.15" font-size="27.00" textLength="68.46" lengthAdjust="spacingAndGlyphs" fill="#000">LBX1</text>
<text x="1933.44" y="121.00" font-size="45.00" textLength="82.25" lengthAdjust="spacingAndGlyphs" fill="#000">-Abl</text>
<line x1="1675.20" y1="152.05" x2="1675.20" y2="550.15" stroke="#000" stroke-width="4.30"/>
<line x1="1662.30" y1="547.70" x2="1974.80" y2="547.70" stroke="#000" stroke-width="4.90"/>
<line x1="1661.70" y1="156.40" x2="1675.20" y2="156.40" stroke="#000" stroke-width="4.30"/>
<text x="1597.95" y="179.24" font-size="45.00" textLength="53.06" lengthAdjust="spacingAndGlyphs">15</text>
<line x1="1661.70" y1="234.67" x2="1675.20" y2="234.67" stroke="#000" stroke-width="4.30"/>
<text x="1598.34" y="254.44" font-size="45.00" textLength="53.06" lengthAdjust="spacingAndGlyphs">12</text>
<line x1="1661.70" y1="312.94" x2="1675.20" y2="312.94" stroke="#000" stroke-width="4.30"/>
<text x="1624.73" y="329.64" font-size="45.00" textLength="26.53" lengthAdjust="spacingAndGlyphs">9</text>
<line x1="1661.70" y1="391.21" x2="1675.20" y2="391.21" stroke="#000" stroke-width="4.30"/>
<text x="1624.57" y="404.84" font-size="45.00" textLength="26.53" lengthAdjust="spacingAndGlyphs">6</text>
<line x1="1661.70" y1="469.48" x2="1675.20" y2="469.48" stroke="#000" stroke-width="4.30"/>
<text x="1624.57" y="480.04" font-size="45.00" textLength="26.53" lengthAdjust="spacingAndGlyphs">3</text>
<line x1="1661.70" y1="547.75" x2="1675.20" y2="547.75" stroke="#000" stroke-width="4.30"/>
<text x="1624.33" y="555.24" font-size="45.00" textLength="26.53" lengthAdjust="spacingAndGlyphs">0</text>
<text transform="translate(1577.00 552.40) rotate(-90)" x="-0.19" y="0" font-size="45.00" textLength="424.67" lengthAdjust="spacingAndGlyphs">Withdrawal latency (s)</text>
<text x="1788.72" y="221.90" font-size="42.00" textLength="60.69" lengthAdjust="spacingAndGlyphs" fill="#000">NS</text>
<line x1="1747.30" y1="233.60" x2="1892.40" y2="233.60" stroke="#303030" stroke-width="6.40"/>
<circle cx="1717.5" cy="315.6" r="11.50" fill="none" stroke="#616161" stroke-width="4.30"/>
<circle cx="1749.6" cy="339.0" r="11.50" fill="none" stroke="#616161" stroke-width="4.30"/>
<circle cx="1798.0" cy="334.2" r="11.50" fill="none" stroke="#616161" stroke-width="4.30"/>
<circle cx="1717.5" cy="362.0" r="11.50" fill="none" stroke="#616161" stroke-width="4.30"/>
<circle cx="1781.9" cy="362.0" r="11.50" fill="none" stroke="#616161" stroke-width="4.30"/>
<circle cx="1749.6" cy="373.5" r="11.50" fill="none" stroke="#616161" stroke-width="4.30"/>
<circle cx="1715.7" cy="379.9" r="11.50" fill="none" stroke="#616161" stroke-width="4.30"/>
<circle cx="1724.6" cy="400.7" r="11.50" fill="none" stroke="#616161" stroke-width="4.30"/>
<circle cx="1732.1" cy="402.2" r="11.50" fill="none" stroke="#616161" stroke-width="4.30"/>
<circle cx="1737.3" cy="403.7" r="11.50" fill="none" stroke="#616161" stroke-width="4.30"/>
<circle cx="1741.8" cy="404.4" r="11.50" fill="none" stroke="#616161" stroke-width="4.30"/>
<circle cx="1784.2" cy="397.0" r="11.50" fill="none" stroke="#616161" stroke-width="4.30"/>
<circle cx="1776.0" cy="400.0" r="11.50" fill="none" stroke="#616161" stroke-width="4.30"/>
<circle cx="1769.3" cy="402.2" r="11.50" fill="none" stroke="#616161" stroke-width="4.30"/>
<circle cx="1763.3" cy="403.7" r="11.50" fill="none" stroke="#616161" stroke-width="4.30"/>
<circle cx="1749.9" cy="413.4" r="11.50" fill="none" stroke="#616161" stroke-width="4.30"/>
<circle cx="1758.1" cy="413.4" r="11.50" fill="none" stroke="#616161" stroke-width="4.30"/>
<path d="M1886.5 262.6L1909.5 262.6L1898.0 285.0Z" fill="none" stroke="#616161" stroke-width="4.30" stroke-linejoin="bevel"/>
<path d="M1854.2 298.6L1877.2 298.6L1865.7 321.0Z" fill="none" stroke="#616161" stroke-width="4.30" stroke-linejoin="bevel"/>
<path d="M1919.2 308.3L1942.2 308.3L1930.7 330.7Z" fill="none" stroke="#616161" stroke-width="4.30" stroke-linejoin="bevel"/>
<path d="M1870.9 315.7L1893.9 315.7L1882.4 338.1Z" fill="none" stroke="#616161" stroke-width="4.30" stroke-linejoin="bevel"/>
<path d="M1902.9 320.2L1925.9 320.2L1914.4 342.6Z" fill="none" stroke="#616161" stroke-width="4.30" stroke-linejoin="bevel"/>
<path d="M1886.5 332.8L1909.5 332.8L1898.0 355.2Z" fill="none" stroke="#616161" stroke-width="4.30" stroke-linejoin="bevel"/>
<path d="M1854.2 358.1L1877.2 358.1L1865.7 380.5Z" fill="none" stroke="#616161" stroke-width="4.30" stroke-linejoin="bevel"/>
<path d="M1919.2 355.1L1942.2 355.1L1930.7 377.5Z" fill="none" stroke="#616161" stroke-width="4.30" stroke-linejoin="bevel"/>
<path d="M1870.4 370.0L1893.4 370.0L1881.9 392.4Z" fill="none" stroke="#616161" stroke-width="4.30" stroke-linejoin="bevel"/>
<path d="M1886.5 374.5L1909.5 374.5L1898.0 396.9Z" fill="none" stroke="#616161" stroke-width="4.30" stroke-linejoin="bevel"/>
<path d="M1902.9 372.2L1925.9 372.2L1914.4 394.6Z" fill="none" stroke="#616161" stroke-width="4.30" stroke-linejoin="bevel"/>
<path d="M1903.6 380.4L1926.6 380.4L1915.1 402.8Z" fill="none" stroke="#616161" stroke-width="4.30" stroke-linejoin="bevel"/>
<path d="M1886.5 361.8L1909.5 361.8L1898.0 384.2Z" fill="none" stroke="#616161" stroke-width="4.30" stroke-linejoin="bevel"/>
<path d="M1869.4 410.6L1892.4 410.6L1880.9 433.0Z" fill="none" stroke="#616161" stroke-width="4.30" stroke-linejoin="bevel"/>
<line x1="1700.10" y1="380.30" x2="1799.00" y2="380.30" stroke="#000" stroke-width="5.20"/>
<line x1="1725.10" y1="372.40" x2="1774.90" y2="372.40" stroke="#000" stroke-width="5.20"/>
<line x1="1725.10" y1="388.40" x2="1774.90" y2="388.40" stroke="#000" stroke-width="5.20"/>
<line x1="1749.60" y1="372.40" x2="1749.60" y2="388.40" stroke="#000" stroke-width="5.20"/>
<line x1="1848.90" y1="354.30" x2="1947.90" y2="354.30" stroke="#000" stroke-width="5.20"/>
<line x1="1873.00" y1="342.40" x2="1922.90" y2="342.40" stroke="#000" stroke-width="5.20"/>
<line x1="1873.00" y1="365.40" x2="1922.90" y2="365.40" stroke="#000" stroke-width="5.20"/>
<line x1="1898.00" y1="342.40" x2="1898.00" y2="365.40" stroke="#000" stroke-width="5.20"/>
<text x="8.98" y="612.50" font-size="60.00" textLength="42.06" lengthAdjust="spacingAndGlyphs" font-weight="bold" fill="#000" style="stroke:#000;stroke-width:1.5px">d</text>
<circle cx="29.9" cy="652.4" r="13.50" fill="none" stroke="#616161" stroke-width="5.90"/>
<text x="48.63" y="668.00" font-size="45.00" textLength="72.48" lengthAdjust="spacingAndGlyphs" fill="#000">Ctrl</text>
<path d="M139.4 641.8L165.8 641.8L152.6 667.8Z" fill="none" stroke="#616161" stroke-width="6.30" stroke-linejoin="bevel"/>
<text x="178.39" y="668.00" font-size="45.00" textLength="103.59" lengthAdjust="spacingAndGlyphs" fill="#000">TAC1</text>
<text x="287.17" y="653.15" font-size="27.00" textLength="66.56" lengthAdjust="spacingAndGlyphs" fill="#000">LBX1</text>
<text x="356.65" y="668.00" font-size="45.00" textLength="82.14" lengthAdjust="spacingAndGlyphs" fill="#000">-Abl</text>
<line x1="151.00" y1="702.90" x2="151.00" y2="1126.40" stroke="#000" stroke-width="4.80"/>
<line x1="137.50" y1="1123.70" x2="406.80" y2="1123.70" stroke="#000" stroke-width="5.40"/>
<line x1="137.50" y1="706.90" x2="151.00" y2="706.90" stroke="#000" stroke-width="4.80"/>
<text x="69.81" y="724.84" font-size="45.00" textLength="53.06" lengthAdjust="spacingAndGlyphs">30</text>
<line x1="137.50" y1="790.26" x2="151.00" y2="790.26" stroke="#000" stroke-width="4.80"/>
<text x="69.34" y="807.92" font-size="45.00" textLength="53.06" lengthAdjust="spacingAndGlyphs">24</text>
<line x1="137.50" y1="873.62" x2="151.00" y2="873.62" stroke="#000" stroke-width="4.80"/>
<text x="70.02" y="891.00" font-size="45.00" textLength="53.06" lengthAdjust="spacingAndGlyphs">18</text>
<line x1="137.50" y1="956.98" x2="151.00" y2="956.98" stroke="#000" stroke-width="4.80"/>
<text x="70.34" y="974.08" font-size="45.00" textLength="53.06" lengthAdjust="spacingAndGlyphs">12</text>
<line x1="137.50" y1="1040.34" x2="151.00" y2="1040.34" stroke="#000" stroke-width="4.80"/>
<text x="96.57" y="1057.16" font-size="45.00" textLength="26.53" lengthAdjust="spacingAndGlyphs">6</text>
<line x1="137.50" y1="1123.70" x2="151.00" y2="1123.70" stroke="#000" stroke-width="4.80"/>
<text x="96.33" y="1140.24" font-size="45.00" textLength="26.53" lengthAdjust="spacingAndGlyphs">0</text>
<text transform="translate(48.50 1122.00) rotate(-90)" x="-0.19" y="0" font-size="45.00" textLength="433.93" lengthAdjust="spacingAndGlyphs">Withdrawal latency (s)</text>
<text x="247.06" y="750.30" font-size="42.00" textLength="61.68" lengthAdjust="spacingAndGlyphs" fill="#000">NS</text>
<line x1="205.10" y1="761.00" x2="350.80" y2="761.00" stroke="#303030" stroke-width="6.40"/>
<circle cx="213.8" cy="806.7" r="11.50" fill="none" stroke="#616161" stroke-width="4.30"/>
<circle cx="198.0" cy="915.4" r="11.50" fill="none" stroke="#616161" stroke-width="4.30"/>
<circle cx="229.4" cy="909.6" r="11.50" fill="none" stroke="#616161" stroke-width="4.30"/>
<circle cx="227.7" cy="928.4" r="11.50" fill="none" stroke="#616161" stroke-width="4.30"/>
<circle cx="199.7" cy="935.6" r="11.50" fill="none" stroke="#616161" stroke-width="4.30"/>
<circle cx="220.5" cy="946.0" r="11.50" fill="none" stroke="#616161" stroke-width="4.30"/>
<circle cx="206.9" cy="948.9" r="11.50" fill="none" stroke="#616161" stroke-width="4.30"/>
<circle cx="214.0" cy="962.9" r="11.50" fill="none" stroke="#616161" stroke-width="4.30"/>
<circle cx="231.0" cy="966.8" r="11.50" fill="none" stroke="#616161" stroke-width="4.30"/>
<circle cx="196.5" cy="973.6" r="11.50" fill="none" stroke="#616161" stroke-width="4.30"/>
<circle cx="221.8" cy="976.6" r="11.50" fill="none" stroke="#616161" stroke-width="4.30"/>
<circle cx="205.6" cy="1000.1" r="11.50" fill="none" stroke="#616161" stroke-width="4.30"/>
<path d="M313.5 869.0L336.5 869.0L325.0 891.4Z" fill="none" stroke="#616161" stroke-width="4.30" stroke-linejoin="bevel"/>
<path d="M345.1 865.1L368.1 865.1L356.6 887.5Z" fill="none" stroke="#616161" stroke-width="4.30" stroke-linejoin="bevel"/>
<path d="M343.8 877.5L366.8 877.5L355.3 899.9Z" fill="none" stroke="#616161" stroke-width="4.30" stroke-linejoin="bevel"/>
<path d="M314.9 897.6L337.9 897.6L326.4 920.0Z" fill="none" stroke="#616161" stroke-width="4.30" stroke-linejoin="bevel"/>
<path d="M329.5 904.2L352.5 904.2L341.0 926.6Z" fill="none" stroke="#616161" stroke-width="4.30" stroke-linejoin="bevel"/>
<path d="M313.9 923.0L336.9 923.0L325.4 945.4Z" fill="none" stroke="#616161" stroke-width="4.30" stroke-linejoin="bevel"/>
<path d="M321.7 925.6L344.7 925.6L333.2 948.0Z" fill="none" stroke="#616161" stroke-width="4.30" stroke-linejoin="bevel"/>
<path d="M329.5 924.3L352.5 924.3L341.0 946.7Z" fill="none" stroke="#616161" stroke-width="4.30" stroke-linejoin="bevel"/>
<path d="M337.3 925.6L360.3 925.6L348.8 948.0Z" fill="none" stroke="#616161" stroke-width="4.30" stroke-linejoin="bevel"/>
<path d="M345.1 923.7L368.1 923.7L356.6 946.1Z" fill="none" stroke="#616161" stroke-width="4.30" stroke-linejoin="bevel"/>
<path d="M321.7 933.5L344.7 933.5L333.2 955.9Z" fill="none" stroke="#616161" stroke-width="4.30" stroke-linejoin="bevel"/>
<path d="M330.8 936.1L353.8 936.1L342.3 958.5Z" fill="none" stroke="#616161" stroke-width="4.30" stroke-linejoin="bevel"/>
<path d="M338.6 933.5L361.6 933.5L350.1 955.9Z" fill="none" stroke="#616161" stroke-width="4.30" stroke-linejoin="bevel"/>
<path d="M330.8 942.6L353.8 942.6L342.3 965.0Z" fill="none" stroke="#616161" stroke-width="4.30" stroke-linejoin="bevel"/>
<path d="M330.8 948.4L353.8 948.4L342.3 970.8Z" fill="none" stroke="#616161" stroke-width="4.30" stroke-linejoin="bevel"/>
<line x1="181.90" y1="939.50" x2="245.00" y2="939.50" stroke="#000" stroke-width="5.20"/>
<line x1="198.00" y1="925.40" x2="229.90" y2="925.40" stroke="#000" stroke-width="5.20"/>
<line x1="198.00" y1="953.60" x2="229.90" y2="953.60" stroke="#000" stroke-width="5.20"/>
<line x1="213.80" y1="925.40" x2="213.80" y2="953.60" stroke="#000" stroke-width="5.20"/>
<line x1="309.10" y1="927.50" x2="371.90" y2="927.50" stroke="#000" stroke-width="5.20"/>
<line x1="325.10" y1="919.30" x2="356.60" y2="919.30" stroke="#000" stroke-width="5.20"/>
<line x1="325.10" y1="935.00" x2="356.60" y2="935.00" stroke="#000" stroke-width="5.20"/>
<line x1="341.00" y1="919.30" x2="341.00" y2="935.00" stroke="#000" stroke-width="5.20"/>
<text x="431.17" y="607.80" font-size="60.00" textLength="40.31" lengthAdjust="spacingAndGlyphs" font-weight="bold" fill="#000" style="stroke:#000;stroke-width:1.5px">e</text>
<circle cx="756.1" cy="648.7" r="13.50" fill="none" stroke="#616161" stroke-width="5.90"/>
<text x="779.00" y="664.50" font-size="45.00" textLength="70.43" lengthAdjust="spacingAndGlyphs" fill="#000">Ctrl</text>
<path d="M866.4 638.1L892.6 638.1L879.5 664.1Z" fill="none" stroke="#616161" stroke-width="6.30" stroke-linejoin="bevel"/>
<text x="907.69" y="664.50" font-size="45.00" textLength="103.59" lengthAdjust="spacingAndGlyphs" fill="#000">TAC1</text>
<text x="1014.87" y="649.65" font-size="27.00" textLength="66.45" lengthAdjust="spacingAndGlyphs" fill="#000">LBX1</text>
<text x="1084.34" y="664.50" font-size="45.00" textLength="82.25" lengthAdjust="spacingAndGlyphs" fill="#000">-Abl</text>
<line x1="597.80" y1="698.20" x2="597.80" y2="1122.80" stroke="#000" stroke-width="4.80"/>
<line x1="585.80" y1="1120.10" x2="807.70" y2="1120.10" stroke="#000" stroke-width="5.40"/>
<line x1="584.30" y1="702.20" x2="597.80" y2="702.20" stroke="#000" stroke-width="4.80"/>
<text x="490.18" y="724.94" font-size="45.00" textLength="79.59" lengthAdjust="spacingAndGlyphs">150</text>
<line x1="584.30" y1="785.78" x2="597.80" y2="785.78" stroke="#000" stroke-width="4.80"/>
<text x="490.18" y="807.40" font-size="45.00" textLength="79.59" lengthAdjust="spacingAndGlyphs">120</text>
<line x1="584.30" y1="869.36" x2="597.80" y2="869.36" stroke="#000" stroke-width="4.80"/>
<text x="516.71" y="889.86" font-size="45.00" textLength="53.06" lengthAdjust="spacingAndGlyphs">90</text>
<line x1="584.30" y1="952.94" x2="597.80" y2="952.94" stroke="#000" stroke-width="4.80"/>
<text x="516.71" y="972.32" font-size="45.00" textLength="53.06" lengthAdjust="spacingAndGlyphs">60</text>
<line x1="584.30" y1="1036.52" x2="597.80" y2="1036.52" stroke="#000" stroke-width="4.80"/>
<text x="516.71" y="1054.78" font-size="45.00" textLength="53.06" lengthAdjust="spacingAndGlyphs">30</text>
<line x1="584.30" y1="1120.10" x2="597.80" y2="1120.10" stroke="#000" stroke-width="4.80"/>
<text x="543.23" y="1137.24" font-size="45.00" textLength="26.53" lengthAdjust="spacingAndGlyphs">0</text>
<text transform="translate(476.50 1122.30) rotate(-90)" x="-0.19" y="0" font-size="45.00" textLength="434.23" lengthAdjust="spacingAndGlyphs">Withdrawal latency (s)</text>
<text x="639.28" y="730.50" font-size="40.00" textLength="111.30" lengthAdjust="spacingAndGlyphs" fill="#000">47 °C</text>
<text x="664.91" y="782.40" font-size="42.00" textLength="62.45" lengthAdjust="spacingAndGlyphs" fill="#000">NS</text>
<line x1="636.20" y1="802.00" x2="756.70" y2="802.00" stroke="#303030" stroke-width="6.40"/>
<circle cx="633.4" cy="964.3" r="11.50" fill="none" stroke="#616161" stroke-width="4.30"/>
<circle cx="668.0" cy="961.8" r="11.50" fill="none" stroke="#616161" stroke-width="4.30"/>
<circle cx="657.6" cy="979.1" r="11.50" fill="none" stroke="#616161" stroke-width="4.30"/>
<circle cx="641.9" cy="984.8" r="11.50" fill="none" stroke="#616161" stroke-width="4.30"/>
<circle cx="631.5" cy="990.1" r="11.50" fill="none" stroke="#616161" stroke-width="4.30"/>
<circle cx="668.6" cy="997.4" r="11.50" fill="none" stroke="#616161" stroke-width="4.30"/>
<circle cx="645.0" cy="1007.4" r="11.50" fill="none" stroke="#616161" stroke-width="4.30"/>
<circle cx="656.7" cy="1021.0" r="11.50" fill="none" stroke="#616161" stroke-width="4.30"/>
<circle cx="662.9" cy="1039.8" r="11.50" fill="none" stroke="#616161" stroke-width="4.30"/>
<circle cx="637.1" cy="1059.4" r="11.50" fill="none" stroke="#616161" stroke-width="4.30"/>
<path d="M742.1 825.3L765.1 825.3L753.6 847.7Z" fill="none" stroke="#616161" stroke-width="4.30" stroke-linejoin="bevel"/>
<path d="M742.1 886.7L765.1 886.7L753.6 909.1Z" fill="none" stroke="#616161" stroke-width="4.30" stroke-linejoin="bevel"/>
<path d="M754.7 891.4L777.7 891.4L766.2 913.8Z" fill="none" stroke="#616161" stroke-width="4.30" stroke-linejoin="bevel"/>
<path d="M729.5 925.4L752.5 925.4L741.0 947.8Z" fill="none" stroke="#616161" stroke-width="4.30" stroke-linejoin="bevel"/>
<path d="M729.5 959.1L752.5 959.1L741.0 981.5Z" fill="none" stroke="#616161" stroke-width="4.30" stroke-linejoin="bevel"/>
<path d="M754.7 989.0L777.7 989.0L766.2 1011.4Z" fill="none" stroke="#616161" stroke-width="4.30" stroke-linejoin="bevel"/>
<path d="M734.2 1005.6L757.2 1005.6L745.7 1028.0Z" fill="none" stroke="#616161" stroke-width="4.30" stroke-linejoin="bevel"/>
<path d="M749.9 1009.4L772.9 1009.4L761.4 1031.8Z" fill="none" stroke="#616161" stroke-width="4.30" stroke-linejoin="bevel"/>
<path d="M742.1 1034.6L765.1 1034.6L753.6 1057.0Z" fill="none" stroke="#616161" stroke-width="4.30" stroke-linejoin="bevel"/>
<line x1="624.60" y1="1000.20" x2="675.50" y2="1000.20" stroke="#000" stroke-width="5.00"/>
<line x1="637.10" y1="990.10" x2="662.30" y2="990.10" stroke="#000" stroke-width="5.00"/>
<line x1="637.10" y1="1010.60" x2="662.30" y2="1010.60" stroke="#000" stroke-width="5.00"/>
<line x1="650.00" y1="990.10" x2="650.00" y2="1010.60" stroke="#000" stroke-width="5.00"/>
<line x1="728.40" y1="958.70" x2="779.40" y2="958.70" stroke="#000" stroke-width="5.00"/>
<line x1="741.00" y1="935.70" x2="766.80" y2="935.70" stroke="#000" stroke-width="5.00"/>
<line x1="741.00" y1="981.30" x2="766.80" y2="981.30" stroke="#000" stroke-width="5.00"/>
<line x1="754.00" y1="935.70" x2="754.00" y2="981.30" stroke="#000" stroke-width="5.00"/>
<line x1="959.60" y1="698.20" x2="959.60" y2="1122.80" stroke="#000" stroke-width="4.80"/>
<line x1="945.40" y1="1120.10" x2="1167.60" y2="1120.10" stroke="#000" stroke-width="5.40"/>
<line x1="946.10" y1="702.20" x2="959.60" y2="702.20" stroke="#000" stroke-width="4.80"/>
<text x="852.28" y="724.94" font-size="45.00" textLength="79.59" lengthAdjust="spacingAndGlyphs">150</text>
<line x1="946.10" y1="785.78" x2="959.60" y2="785.78" stroke="#000" stroke-width="4.80"/>
<text x="852.28" y="807.40" font-size="45.00" textLength="79.59" lengthAdjust="spacingAndGlyphs">120</text>
<line x1="946.10" y1="869.36" x2="959.60" y2="869.36" stroke="#000" stroke-width="4.80"/>
<text x="878.81" y="889.86" font-size="45.00" textLength="53.06" lengthAdjust="spacingAndGlyphs">90</text>
<line x1="946.10" y1="952.94" x2="959.60" y2="952.94" stroke="#000" stroke-width="4.80"/>
<text x="878.81" y="972.32" font-size="45.00" textLength="53.06" lengthAdjust="spacingAndGlyphs">60</text>
<line x1="946.10" y1="1036.52" x2="959.60" y2="1036.52" stroke="#000" stroke-width="4.80"/>
<text x="878.81" y="1054.78" font-size="45.00" textLength="53.06" lengthAdjust="spacingAndGlyphs">30</text>
<line x1="946.10" y1="1120.10" x2="959.60" y2="1120.10" stroke="#000" stroke-width="4.80"/>
<text x="905.33" y="1137.24" font-size="45.00" textLength="26.53" lengthAdjust="spacingAndGlyphs">0</text>
<text transform="translate(843.80 1122.30) rotate(-90)" x="-0.19" y="0" font-size="45.00" textLength="434.23" lengthAdjust="spacingAndGlyphs">Withdrawal latency (s)</text>
<text x="1004.31" y="730.50" font-size="40.00" textLength="112.09" lengthAdjust="spacingAndGlyphs" fill="#000">50 °C</text>
<text x="1030.92" y="941.30" font-size="42.00" textLength="60.58" lengthAdjust="spacingAndGlyphs" fill="#000">NS</text>
<line x1="996.70" y1="953.30" x2="1116.30" y2="953.30" stroke="#303030" stroke-width="6.40"/>
<circle cx="996.6" cy="1022.7" r="11.50" fill="none" stroke="#616161" stroke-width="4.30"/>
<circle cx="1021.8" cy="1022.7" r="11.50" fill="none" stroke="#616161" stroke-width="4.30"/>
<circle cx="1023.6" cy="1023.4" r="11.50" fill="none" stroke="#616161" stroke-width="4.30"/>
<circle cx="1000.4" cy="1036.5" r="11.50" fill="none" stroke="#616161" stroke-width="4.30"/>
<circle cx="1014.6" cy="1045.9" r="11.50" fill="none" stroke="#616161" stroke-width="4.30"/>
<circle cx="1005.3" cy="1050.8" r="11.50" fill="none" stroke="#616161" stroke-width="4.30"/>
<circle cx="1007.5" cy="1060.2" r="11.50" fill="none" stroke="#616161" stroke-width="4.30"/>
<circle cx="999.5" cy="1072.7" r="11.50" fill="none" stroke="#616161" stroke-width="4.30"/>
<circle cx="1000.8" cy="1073.6" r="11.50" fill="none" stroke="#616161" stroke-width="4.30"/>
<circle cx="1019.1" cy="1072.7" r="11.50" fill="none" stroke="#616161" stroke-width="4.30"/>
<circle cx="1014.6" cy="1086.1" r="11.50" fill="none" stroke="#616161" stroke-width="4.30"/>
<circle cx="1009.7" cy="1098.6" r="11.50" fill="none" stroke="#616161" stroke-width="4.30"/>
<path d="M1114.8 983.9L1137.8 983.9L1126.2 1006.3Z" fill="none" stroke="#616161" stroke-width="4.30" stroke-linejoin="bevel"/>
<path d="M1088.7 997.8L1111.7 997.8L1100.2 1020.2Z" fill="none" stroke="#616161" stroke-width="4.30" stroke-linejoin="bevel"/>
<path d="M1084.4 1008.9L1107.4 1008.9L1095.9 1031.3Z" fill="none" stroke="#616161" stroke-width="4.30" stroke-linejoin="bevel"/>
<path d="M1119.2 1012.1L1142.2 1012.1L1130.7 1034.5Z" fill="none" stroke="#616161" stroke-width="4.30" stroke-linejoin="bevel"/>
<path d="M1088.9 1022.8L1111.9 1022.8L1100.4 1045.2Z" fill="none" stroke="#616161" stroke-width="4.30" stroke-linejoin="bevel"/>
<path d="M1114.8 1028.1L1137.8 1028.1L1126.2 1050.5Z" fill="none" stroke="#616161" stroke-width="4.30" stroke-linejoin="bevel"/>
<path d="M1101.4 1030.8L1124.4 1030.8L1112.9 1053.2Z" fill="none" stroke="#616161" stroke-width="4.30" stroke-linejoin="bevel"/>
<path d="M1092.4 1039.7L1115.4 1039.7L1103.9 1062.1Z" fill="none" stroke="#616161" stroke-width="4.30" stroke-linejoin="bevel"/>
<path d="M1110.3 1039.7L1133.3 1039.7L1121.8 1062.1Z" fill="none" stroke="#616161" stroke-width="4.30" stroke-linejoin="bevel"/>
<path d="M1101.4 1048.7L1124.4 1048.7L1112.9 1071.1Z" fill="none" stroke="#616161" stroke-width="4.30" stroke-linejoin="bevel"/>
<path d="M1097.8 1055.8L1120.8 1055.8L1109.3 1078.2Z" fill="none" stroke="#616161" stroke-width="4.30" stroke-linejoin="bevel"/>
<path d="M1105.8 1056.7L1128.8 1056.7L1117.3 1079.1Z" fill="none" stroke="#616161" stroke-width="4.30" stroke-linejoin="bevel"/>
<path d="M1101.4 1064.7L1124.4 1064.7L1112.9 1087.1Z" fill="none" stroke="#616161" stroke-width="4.30" stroke-linejoin="bevel"/>
<path d="M1101.8 1075.5L1124.8 1075.5L1113.3 1097.9Z" fill="none" stroke="#616161" stroke-width="4.30" stroke-linejoin="bevel"/>
<line x1="983.80" y1="1055.40" x2="1036.10" y2="1055.40" stroke="#000" stroke-width="5.20"/>
<line x1="997.00" y1="1048.60" x2="1023.00" y2="1048.60" stroke="#000" stroke-width="5.20"/>
<line x1="997.00" y1="1063.30" x2="1023.00" y2="1063.30" stroke="#000" stroke-width="5.20"/>
<line x1="1010.00" y1="1048.60" x2="1010.00" y2="1063.30" stroke="#000" stroke-width="5.20"/>
<line x1="1087.10" y1="1045.40" x2="1139.00" y2="1045.40" stroke="#000" stroke-width="5.20"/>
<line x1="1100.10" y1="1038.30" x2="1126.00" y2="1038.30" stroke="#000" stroke-width="5.20"/>
<line x1="1100.10" y1="1051.70" x2="1126.00" y2="1051.70" stroke="#000" stroke-width="5.20"/>
<line x1="1113.00" y1="1038.30" x2="1113.00" y2="1051.70" stroke="#000" stroke-width="5.20"/>
<line x1="1326.60" y1="696.60" x2="1326.60" y2="1121.20" stroke="#000" stroke-width="4.80"/>
<line x1="1313.20" y1="1118.50" x2="1559.00" y2="1118.50" stroke="#000" stroke-width="5.40"/>
<line x1="1313.10" y1="700.60" x2="1326.60" y2="700.60" stroke="#000" stroke-width="4.80"/>
<text x="1223.48" y="723.64" font-size="45.00" textLength="79.59" lengthAdjust="spacingAndGlyphs">150</text>
<line x1="1313.10" y1="784.12" x2="1326.60" y2="784.12" stroke="#000" stroke-width="4.80"/>
<text x="1223.48" y="805.98" font-size="45.00" textLength="79.59" lengthAdjust="spacingAndGlyphs">120</text>
<line x1="1313.10" y1="867.64" x2="1326.60" y2="867.64" stroke="#000" stroke-width="4.80"/>
<text x="1250.01" y="888.32" font-size="45.00" textLength="53.06" lengthAdjust="spacingAndGlyphs">90</text>
<line x1="1313.10" y1="951.16" x2="1326.60" y2="951.16" stroke="#000" stroke-width="4.80"/>
<text x="1250.01" y="970.66" font-size="45.00" textLength="53.06" lengthAdjust="spacingAndGlyphs">60</text>
<line x1="1313.10" y1="1034.68" x2="1326.60" y2="1034.68" stroke="#000" stroke-width="4.80"/>
<text x="1250.01" y="1053.00" font-size="45.00" textLength="53.06" lengthAdjust="spacingAndGlyphs">30</text>
<line x1="1313.10" y1="1118.20" x2="1326.60" y2="1118.20" stroke="#000" stroke-width="4.80"/>
<text x="1276.53" y="1135.34" font-size="45.00" textLength="26.53" lengthAdjust="spacingAndGlyphs">0</text>
<text transform="translate(1216.00 1122.30) rotate(-90)" x="-0.19" y="0" font-size="45.00" textLength="434.23" lengthAdjust="spacingAndGlyphs">Withdrawal latency (s)</text>
<text x="1379.61" y="730.50" font-size="40.00" textLength="112.09" lengthAdjust="spacingAndGlyphs" fill="#000">56 °C</text>
<text x="1401.36" y="1016.90" font-size="42.00" textLength="61.68" lengthAdjust="spacingAndGlyphs" fill="#000">NS</text>
<line x1="1372.60" y1="1033.20" x2="1491.60" y2="1033.20" stroke="#303030" stroke-width="6.40"/>
<circle cx="1366.5" cy="1107.0" r="11.5" fill="#616161" stroke="#616161" stroke-width="4.3"/>
<circle cx="1376.0" cy="1104.5" r="11.5" fill="#616161" stroke="#616161" stroke-width="4.3"/>
<circle cx="1392.0" cy="1102.0" r="11.5" fill="#616161" stroke="#616161" stroke-width="4.3"/>
<circle cx="1401.0" cy="1104.5" r="11.5" fill="#616161" stroke="#616161" stroke-width="4.3"/>
<circle cx="1368.0" cy="1110.0" r="11.5" fill="#616161" stroke="#616161" stroke-width="4.3"/>
<circle cx="1381.0" cy="1112.5" r="11.5" fill="#616161" stroke="#616161" stroke-width="4.3"/>
<circle cx="1395.0" cy="1111.0" r="11.5" fill="#616161" stroke="#616161" stroke-width="4.3"/>
<circle cx="1401.0" cy="1109.0" r="11.5" fill="#616161" stroke="#616161" stroke-width="4.3"/>
<circle cx="1384.0" cy="1107.0" r="11.5" fill="#616161" stroke="#616161" stroke-width="4.3"/>
<polygon points="1470.5,1090.5 1527,1090.5 1506,1121 1488,1121" fill="#616161"/>
<path d="M1470.2 1090.7L1493.2 1090.7L1481.7 1113.1Z" fill="none" stroke="#616161" stroke-width="4.30" stroke-linejoin="bevel"/>
<path d="M1478.5 1090.7L1501.5 1090.7L1490.0 1113.1Z" fill="none" stroke="#616161" stroke-width="4.30" stroke-linejoin="bevel"/>
<path d="M1486.5 1090.7L1509.5 1090.7L1498.0 1113.1Z" fill="none" stroke="#616161" stroke-width="4.30" stroke-linejoin="bevel"/>
<path d="M1495.5 1090.7L1518.5 1090.7L1507.0 1113.1Z" fill="none" stroke="#616161" stroke-width="4.30" stroke-linejoin="bevel"/>
<path d="M1504.3 1090.7L1527.3 1090.7L1515.8 1113.1Z" fill="none" stroke="#616161" stroke-width="4.30" stroke-linejoin="bevel"/>
<path d="M1495.8 1084.5L1518.8 1084.5L1507.3 1106.9Z" fill="none" stroke="#616161" stroke-width="4.30" stroke-linejoin="bevel"/>
<path d="M1484.3 1102.1L1507.3 1102.1L1495.8 1124.5Z" fill="none" stroke="#616161" stroke-width="4.30" stroke-linejoin="bevel"/>
<path d="M1478.5 1097.4L1501.5 1097.4L1490.0 1119.8Z" fill="none" stroke="#616161" stroke-width="4.30" stroke-linejoin="bevel"/>
<path d="M1490.5 1097.4L1513.5 1097.4L1502.0 1119.8Z" fill="none" stroke="#616161" stroke-width="4.30" stroke-linejoin="bevel"/>
<path d="M1484.5 1093.4L1507.5 1093.4L1496.0 1115.8Z" fill="none" stroke="#616161" stroke-width="4.30" stroke-linejoin="bevel"/>
<path d="M1476.0 1100.9L1499.0 1100.9L1487.5 1123.3Z" fill="none" stroke="#616161" stroke-width="4.30" stroke-linejoin="bevel"/>
<path d="M1493.0 1100.9L1516.0 1100.9L1504.5 1123.3Z" fill="none" stroke="#616161" stroke-width="4.30" stroke-linejoin="bevel"/>
<path d="M1498.5 1095.4L1521.5 1095.4L1510.0 1117.8Z" fill="none" stroke="#616161" stroke-width="4.30" stroke-linejoin="bevel"/>
<path d="M1471.5 1095.4L1494.5 1095.4L1483.0 1117.8Z" fill="none" stroke="#616161" stroke-width="4.30" stroke-linejoin="bevel"/>
<line x1="1354.90" y1="1108.50" x2="1413.20" y2="1108.50" stroke="#000" stroke-width="5.40"/>
<rect x="1368.75" y="1104.6" width="29.2" height="7.8" fill="#000"/>
<line x1="1470.10" y1="1106.40" x2="1527.80" y2="1106.40" stroke="#000" stroke-width="5.40"/>
<rect x="1484.7" y="1102.4" width="27.8" height="8" fill="#000"/>
<text x="1573.74" y="616.00" font-size="60.00" textLength="24.62" lengthAdjust="spacingAndGlyphs" font-weight="bold" fill="#000" style="stroke:#000;stroke-width:1.5px">f</text>
<circle cx="1602.5" cy="644.6" r="13.50" fill="none" stroke="#616161" stroke-width="5.90"/>
<text x="1622.19" y="660.50" font-size="45.00" textLength="70.86" lengthAdjust="spacingAndGlyphs" fill="#000">Ctrl</text>
<path d="M1718.3 634.0L1744.7 634.0L1731.5 660.0Z" fill="none" stroke="#616161" stroke-width="6.30" stroke-linejoin="bevel"/>
<text x="1756.78" y="660.50" font-size="45.00" textLength="104.21" lengthAdjust="spacingAndGlyphs" fill="#000">TAC1</text>
<text x="1865.57" y="645.65" font-size="27.00" textLength="66.56" lengthAdjust="spacingAndGlyphs" fill="#000">LBX1</text>
<text x="1934.72" y="660.50" font-size="45.00" textLength="83.21" lengthAdjust="spacingAndGlyphs" fill="#000">-Abl</text>
<line x1="1717.40" y1="697.30" x2="1717.40" y2="1121.90" stroke="#000" stroke-width="4.80"/>
<line x1="1704.20" y1="1119.20" x2="1995.00" y2="1119.20" stroke="#000" stroke-width="5.40"/>
<line x1="1703.90" y1="701.60" x2="1717.40" y2="701.60" stroke="#000" stroke-width="4.80"/>
<text x="1636.31" y="724.34" font-size="45.00" textLength="53.06" lengthAdjust="spacingAndGlyphs">20</text>
<line x1="1703.90" y1="785.12" x2="1717.40" y2="785.12" stroke="#000" stroke-width="4.80"/>
<text x="1636.54" y="806.56" font-size="45.00" textLength="53.06" lengthAdjust="spacingAndGlyphs">16</text>
<line x1="1703.90" y1="868.64" x2="1717.40" y2="868.64" stroke="#000" stroke-width="4.80"/>
<text x="1636.84" y="888.78" font-size="45.00" textLength="53.06" lengthAdjust="spacingAndGlyphs">12</text>
<line x1="1703.90" y1="952.16" x2="1717.40" y2="952.16" stroke="#000" stroke-width="4.80"/>
<text x="1663.04" y="971.00" font-size="45.00" textLength="26.53" lengthAdjust="spacingAndGlyphs">8</text>
<line x1="1703.90" y1="1035.68" x2="1717.40" y2="1035.68" stroke="#000" stroke-width="4.80"/>
<text x="1662.37" y="1053.22" font-size="45.00" textLength="26.53" lengthAdjust="spacingAndGlyphs">4</text>
<line x1="1703.90" y1="1119.20" x2="1717.40" y2="1119.20" stroke="#000" stroke-width="4.80"/>
<text x="1662.83" y="1135.44" font-size="45.00" textLength="26.53" lengthAdjust="spacingAndGlyphs">0</text>
<text transform="translate(1619.50 1109.80) rotate(-90)" x="-3.69" y="0" font-size="45.00" textLength="422.31" lengthAdjust="spacingAndGlyphs">No. of jump episodes</text>
<text x="1785.52" y="730.50" font-size="40.00" textLength="111.98" lengthAdjust="spacingAndGlyphs" fill="#000">56 °C</text>
<text x="1825.46" y="783.10" font-size="42.00" textLength="61.68" lengthAdjust="spacingAndGlyphs" fill="#000">NS</text>
<line x1="1770.90" y1="801.30" x2="1926.70" y2="801.30" stroke="#303030" stroke-width="6.40"/>
<circle cx="1786.0" cy="868.4" r="11.50" fill="none" stroke="#616161" stroke-width="4.30"/>
<circle cx="1786.0" cy="909.9" r="11.50" fill="none" stroke="#616161" stroke-width="4.30"/>
<circle cx="1769.3" cy="994.0" r="11.50" fill="none" stroke="#616161" stroke-width="4.30"/>
<circle cx="1821.2" cy="994.0" r="11.50" fill="none" stroke="#616161" stroke-width="4.30"/>
<circle cx="1803.9" cy="1014.7" r="11.50" fill="none" stroke="#616161" stroke-width="4.30"/>
<circle cx="1767.7" cy="1035.2" r="11.50" fill="none" stroke="#616161" stroke-width="4.30"/>
<circle cx="1770.3" cy="1056.3" r="11.50" fill="none" stroke="#616161" stroke-width="4.30"/>
<circle cx="1803.0" cy="1056.3" r="11.50" fill="none" stroke="#616161" stroke-width="4.30"/>
<circle cx="1786.0" cy="1077.4" r="11.50" fill="none" stroke="#616161" stroke-width="4.30"/>
<circle cx="1769.3" cy="1098.2" r="11.50" fill="none" stroke="#616161" stroke-width="4.30"/>
<circle cx="1786.0" cy="1119.2" r="11.50" fill="none" stroke="#616161" stroke-width="4.30"/>
<circle cx="1802.4" cy="1119.2" r="11.50" fill="none" stroke="#616161" stroke-width="4.30"/>
<path d="M1912.0 814.3L1935.0 814.3L1923.5 836.7Z" fill="none" stroke="#616161" stroke-width="4.30" stroke-linejoin="bevel"/>
<path d="M1912.0 919.8L1935.0 919.8L1923.5 942.2Z" fill="none" stroke="#616161" stroke-width="4.30" stroke-linejoin="bevel"/>
<path d="M1894.7 961.6L1917.7 961.6L1906.2 984.0Z" fill="none" stroke="#616161" stroke-width="4.30" stroke-linejoin="bevel"/>
<path d="M1929.3 982.7L1952.3 982.7L1940.8 1005.1Z" fill="none" stroke="#616161" stroke-width="4.30" stroke-linejoin="bevel"/>
<path d="M1912.0 1024.6L1935.0 1024.6L1923.5 1047.0Z" fill="none" stroke="#616161" stroke-width="4.30" stroke-linejoin="bevel"/>
<path d="M1894.7 1045.7L1917.7 1045.7L1906.2 1068.1Z" fill="none" stroke="#616161" stroke-width="4.30" stroke-linejoin="bevel"/>
<path d="M1929.3 1066.1L1952.3 1066.1L1940.8 1088.5Z" fill="none" stroke="#616161" stroke-width="4.30" stroke-linejoin="bevel"/>
<path d="M1894.7 1088.2L1917.7 1088.2L1906.2 1110.6Z" fill="none" stroke="#616161" stroke-width="4.30" stroke-linejoin="bevel"/>
<path d="M1929.3 1088.2L1952.3 1088.2L1940.8 1110.6Z" fill="none" stroke="#616161" stroke-width="4.30" stroke-linejoin="bevel"/>
<path d="M1904.2 1108.6L1927.2 1108.6L1915.7 1131.0Z" fill="none" stroke="#616161" stroke-width="4.30" stroke-linejoin="bevel"/>
<path d="M1912.0 1108.6L1935.0 1108.6L1923.5 1131.0Z" fill="none" stroke="#616161" stroke-width="4.30" stroke-linejoin="bevel"/>
<path d="M1919.9 1108.6L1942.9 1108.6L1931.4 1131.0Z" fill="none" stroke="#616161" stroke-width="4.30" stroke-linejoin="bevel"/>
<line x1="1751.40" y1="1028.60" x2="1819.70" y2="1028.60" stroke="#000" stroke-width="5.00"/>
<line x1="1769.30" y1="1005.90" x2="1803.00" y2="1005.90" stroke="#000" stroke-width="5.00"/>
<line x1="1769.30" y1="1051.60" x2="1803.00" y2="1051.60" stroke="#000" stroke-width="5.00"/>
<line x1="1786.00" y1="1005.90" x2="1786.00" y2="1051.60" stroke="#000" stroke-width="5.00"/>
<line x1="1888.90" y1="1037.40" x2="1958.20" y2="1037.40" stroke="#000" stroke-width="5.00"/>
<line x1="1906.20" y1="1011.30" x2="1940.20" y2="1011.30" stroke="#000" stroke-width="5.00"/>
<line x1="1906.20" y1="1063.50" x2="1940.20" y2="1063.50" stroke="#000" stroke-width="5.00"/>
<line x1="1923.50" y1="1011.30" x2="1923.50" y2="1063.50" stroke="#000" stroke-width="5.00"/>
<text x="14.27" y="1212.00" font-size="60.00" textLength="40.69" lengthAdjust="spacingAndGlyphs" font-weight="bold" fill="#000" style="stroke:#000;stroke-width:1.5px">g</text>
<circle cx="262.0" cy="1213.6" r="13.50" fill="none" stroke="#616161" stroke-width="5.90"/>
<text x="291.31" y="1229.50" font-size="45.00" textLength="73.24" lengthAdjust="spacingAndGlyphs" fill="#000">Ctrl</text>
<path d="M386.5 1205.4L412.8 1205.4L399.6 1231.4Z" fill="none" stroke="#616161" stroke-width="6.30" stroke-linejoin="bevel"/>
<text x="425.65" y="1229.50" font-size="45.00" textLength="107.91" lengthAdjust="spacingAndGlyphs" fill="#000">TAC1</text>
<text x="536.27" y="1214.50" font-size="27.00" textLength="66.56" lengthAdjust="spacingAndGlyphs" fill="#000">LBX1</text>
<text x="606.45" y="1229.50" font-size="45.00" textLength="82.04" lengthAdjust="spacingAndGlyphs" fill="#000">-Abl</text>
<line x1="144.50" y1="1292.80" x2="144.50" y2="1759.50" stroke="#000" stroke-width="4.80"/>
<line x1="130.60" y1="1756.80" x2="912.50" y2="1756.80" stroke="#000" stroke-width="5.40"/>
<line x1="131.00" y1="1296.60" x2="144.50" y2="1296.60" stroke="#000" stroke-width="4.80"/>
<text x="71.81" y="1319.75" font-size="49.00" textLength="54.50" lengthAdjust="spacingAndGlyphs">60</text>
<line x1="131.00" y1="1373.30" x2="144.50" y2="1373.30" stroke="#000" stroke-width="4.80"/>
<text x="71.81" y="1393.75" font-size="49.00" textLength="54.50" lengthAdjust="spacingAndGlyphs">50</text>
<line x1="131.00" y1="1450.00" x2="144.50" y2="1450.00" stroke="#000" stroke-width="4.80"/>
<text x="71.81" y="1469.75" font-size="49.00" textLength="54.50" lengthAdjust="spacingAndGlyphs">40</text>
<line x1="131.00" y1="1526.70" x2="144.50" y2="1526.70" stroke="#000" stroke-width="4.80"/>
<text x="71.81" y="1545.65" font-size="49.00" textLength="54.50" lengthAdjust="spacingAndGlyphs">30</text>
<line x1="131.00" y1="1603.40" x2="144.50" y2="1603.40" stroke="#000" stroke-width="4.80"/>
<text x="71.81" y="1620.65" font-size="49.00" textLength="54.50" lengthAdjust="spacingAndGlyphs">20</text>
<line x1="131.00" y1="1680.10" x2="144.50" y2="1680.10" stroke="#000" stroke-width="4.80"/>
<text x="71.81" y="1698.50" font-size="49.00" textLength="54.50" lengthAdjust="spacingAndGlyphs">10</text>
<line x1="131.00" y1="1756.80" x2="144.50" y2="1756.80" stroke="#000" stroke-width="4.80"/>
<text x="99.06" y="1765.05" font-size="49.00" textLength="27.25" lengthAdjust="spacingAndGlyphs">0</text>
<text transform="translate(46.00 1770.80) rotate(-90)" x="-3.66" y="0" font-size="45.00" textLength="480.87" lengthAdjust="spacingAndGlyphs">No. of freezing episodes</text>
<text x="436.09" y="1295.20" font-size="40.00" textLength="58.73" lengthAdjust="spacingAndGlyphs" fill="#000">ES</text>
<line x1="275.10" y1="1305.50" x2="651.40" y2="1305.50" stroke="#303030" stroke-width="6.40"/>
<text x="729.36" y="1295.20" font-size="40.00" textLength="123.20" lengthAdjust="spacingAndGlyphs" fill="#000">Recall</text>
<line x1="671.40" y1="1305.50" x2="895.20" y2="1305.50" stroke="#303030" stroke-width="6.40"/>
<text x="688.61" y="1360.50" font-size="42.00" textLength="64.21" lengthAdjust="spacingAndGlyphs" fill="#000">NS</text>
<line x1="671.40" y1="1373.60" x2="768.40" y2="1373.60" stroke="#303030" stroke-width="6.40"/>
<text x="815.41" y="1360.50" font-size="42.00" textLength="64.21" lengthAdjust="spacingAndGlyphs" fill="#000">NS</text>
<line x1="797.30" y1="1373.60" x2="895.20" y2="1373.60" stroke="#303030" stroke-width="6.40"/>
<line x1="271.8" y1="1319" x2="271.8" y2="1753" stroke="#000" stroke-width="4.4" stroke-dasharray="0.01 13.45" stroke-linecap="round"/>
<line x1="398.7" y1="1319" x2="398.7" y2="1753" stroke="#000" stroke-width="4.4" stroke-dasharray="0.01 13.45" stroke-linecap="round"/>
<line x1="526.0" y1="1319" x2="526.0" y2="1753" stroke="#000" stroke-width="4.4" stroke-dasharray="0.01 13.45" stroke-linecap="round"/>
<line x1="652.8" y1="1319" x2="652.8" y2="1753" stroke="#000" stroke-width="4.4" stroke-dasharray="0.01 13.45" stroke-linecap="round"/>
<line x1="781.0" y1="1319" x2="781.0" y2="1753" stroke="#000" stroke-width="4.4" stroke-dasharray="0.01 13.45" stroke-linecap="round"/>
<text x="183.15" y="1812.80" font-size="44.00" textLength="63.37" lengthAdjust="spacingAndGlyphs" fill="#000">BL</text>
<text x="299.36" y="1812.80" font-size="44.00" textLength="63.79" lengthAdjust="spacingAndGlyphs" fill="#000">1st</text>
<text x="417.06" y="1812.80" font-size="44.00" textLength="84.19" lengthAdjust="spacingAndGlyphs" fill="#000">2nd</text>
<text x="552.98" y="1812.80" font-size="44.00" textLength="72.76" lengthAdjust="spacingAndGlyphs" fill="#000">3rd</text>
<text x="664.91" y="1812.80" font-size="44.00" textLength="107.53" lengthAdjust="spacingAndGlyphs" fill="#000">0.5 h</text>
<text x="799.88" y="1812.80" font-size="44.00" textLength="94.78" lengthAdjust="spacingAndGlyphs" fill="#000">48 h</text>
<circle cx="161.8" cy="1703.2" r="9.25" fill="none" stroke="#616161" stroke-width="4.00"/>
<circle cx="185.1" cy="1718.6" r="9.25" fill="none" stroke="#616161" stroke-width="4.00"/>
<circle cx="176.3" cy="1740.5" r="9.25" fill="none" stroke="#616161" stroke-width="4.00"/>
<circle cx="176.3" cy="1751.2" r="9.25" fill="none" stroke="#616161" stroke-width="4.00"/>
<circle cx="176.3" cy="1759.2" r="9.25" fill="none" stroke="#616161" stroke-width="4.00"/>
<circle cx="317.1" cy="1665.0" r="9.25" fill="none" stroke="#616161" stroke-width="4.00"/>
<circle cx="294.7" cy="1679.0" r="9.25" fill="none" stroke="#616161" stroke-width="4.00"/>
<circle cx="288.2" cy="1703.2" r="9.25" fill="none" stroke="#616161" stroke-width="4.00"/>
<circle cx="318.5" cy="1711.1" r="9.25" fill="none" stroke="#616161" stroke-width="4.00"/>
<circle cx="296.1" cy="1726.5" r="9.25" fill="none" stroke="#616161" stroke-width="4.00"/>
<circle cx="305.4" cy="1738.2" r="9.25" fill="none" stroke="#616161" stroke-width="4.00"/>
<circle cx="303.1" cy="1758.2" r="9.25" fill="none" stroke="#616161" stroke-width="4.00"/>
<circle cx="298.4" cy="1731.2" r="9.25" fill="none" stroke="#616161" stroke-width="4.00"/>
<circle cx="429.9" cy="1488.7" r="9.25" fill="none" stroke="#616161" stroke-width="4.00"/>
<circle cx="444.4" cy="1549.3" r="9.25" fill="none" stroke="#616161" stroke-width="4.00"/>
<circle cx="422.0" cy="1564.7" r="9.25" fill="none" stroke="#616161" stroke-width="4.00"/>
<circle cx="415.0" cy="1649.6" r="9.25" fill="none" stroke="#616161" stroke-width="4.00"/>
<circle cx="440.6" cy="1649.6" r="9.25" fill="none" stroke="#616161" stroke-width="4.00"/>
<circle cx="444.4" cy="1688.3" r="9.25" fill="none" stroke="#616161" stroke-width="4.00"/>
<circle cx="415.0" cy="1703.2" r="9.25" fill="none" stroke="#616161" stroke-width="4.00"/>
<circle cx="431.3" cy="1703.2" r="9.25" fill="none" stroke="#616161" stroke-width="4.00"/>
<circle cx="425.2" cy="1712.5" r="9.25" fill="none" stroke="#616161" stroke-width="4.00"/>
<circle cx="558.1" cy="1480.8" r="9.25" fill="none" stroke="#616161" stroke-width="4.00"/>
<circle cx="544.6" cy="1564.7" r="9.25" fill="none" stroke="#616161" stroke-width="4.00"/>
<circle cx="572.6" cy="1572.6" r="9.25" fill="none" stroke="#616161" stroke-width="4.00"/>
<circle cx="557.2" cy="1582.0" r="9.25" fill="none" stroke="#616161" stroke-width="4.00"/>
<circle cx="557.2" cy="1628.6" r="9.25" fill="none" stroke="#616161" stroke-width="4.00"/>
<circle cx="543.2" cy="1649.6" r="9.25" fill="none" stroke="#616161" stroke-width="4.00"/>
<circle cx="565.6" cy="1658.0" r="9.25" fill="none" stroke="#616161" stroke-width="4.00"/>
<circle cx="558.1" cy="1718.6" r="9.25" fill="none" stroke="#616161" stroke-width="4.00"/>
<circle cx="677.0" cy="1511.1" r="9.25" fill="none" stroke="#616161" stroke-width="4.00"/>
<circle cx="699.4" cy="1504.1" r="9.25" fill="none" stroke="#616161" stroke-width="4.00"/>
<circle cx="671.4" cy="1542.3" r="9.25" fill="none" stroke="#616161" stroke-width="4.00"/>
<circle cx="699.4" cy="1542.3" r="9.25" fill="none" stroke="#616161" stroke-width="4.00"/>
<circle cx="681.7" cy="1549.3" r="9.25" fill="none" stroke="#616161" stroke-width="4.00"/>
<circle cx="690.1" cy="1565.7" r="9.25" fill="none" stroke="#616161" stroke-width="4.00"/>
<circle cx="683.1" cy="1656.6" r="9.25" fill="none" stroke="#616161" stroke-width="4.00"/>
<circle cx="687.7" cy="1672.9" r="9.25" fill="none" stroke="#616161" stroke-width="4.00"/>
<circle cx="813.6" cy="1457.5" r="9.25" fill="none" stroke="#616161" stroke-width="4.00"/>
<circle cx="798.7" cy="1488.7" r="9.25" fill="none" stroke="#616161" stroke-width="4.00"/>
<circle cx="820.6" cy="1495.7" r="9.25" fill="none" stroke="#616161" stroke-width="4.00"/>
<circle cx="812.7" cy="1610.9" r="9.25" fill="none" stroke="#616161" stroke-width="4.00"/>
<circle cx="815.0" cy="1627.7" r="9.25" fill="none" stroke="#616161" stroke-width="4.00"/>
<circle cx="812.7" cy="1649.6" r="9.25" fill="none" stroke="#616161" stroke-width="4.00"/>
<circle cx="804.3" cy="1688.3" r="9.25" fill="none" stroke="#616161" stroke-width="4.00"/>
<circle cx="826.2" cy="1679.9" r="9.25" fill="none" stroke="#616161" stroke-width="4.00"/>
<path d="M217.0 1699.4L235.3 1699.4L226.1 1717.4Z" fill="none" stroke="#616161" stroke-width="4.00" stroke-linejoin="bevel"/>
<path d="M238.0 1714.8L256.3 1714.8L247.1 1732.8Z" fill="none" stroke="#616161" stroke-width="4.00" stroke-linejoin="bevel"/>
<path d="M224.0 1736.7L242.3 1736.7L233.1 1754.7Z" fill="none" stroke="#616161" stroke-width="4.00" stroke-linejoin="bevel"/>
<path d="M214.7 1743.7L233.0 1743.7L223.8 1761.7Z" fill="none" stroke="#616161" stroke-width="4.00" stroke-linejoin="bevel"/>
<path d="M233.3 1748.4L251.6 1748.4L242.5 1766.4Z" fill="none" stroke="#616161" stroke-width="4.00" stroke-linejoin="bevel"/>
<path d="M245.0 1738.1L263.3 1738.1L254.1 1756.1Z" fill="none" stroke="#616161" stroke-width="4.00" stroke-linejoin="bevel"/>
<path d="M224.0 1749.3L242.3 1749.3L233.1 1767.3Z" fill="none" stroke="#616161" stroke-width="4.00" stroke-linejoin="bevel"/>
<path d="M240.3 1747.4L258.6 1747.4L249.5 1765.4Z" fill="none" stroke="#616161" stroke-width="4.00" stroke-linejoin="bevel"/>
<path d="M228.6 1741.4L246.9 1741.4L237.8 1759.4Z" fill="none" stroke="#616161" stroke-width="4.00" stroke-linejoin="bevel"/>
<path d="M237.0 1740.0L255.3 1740.0L246.2 1758.0Z" fill="none" stroke="#616161" stroke-width="4.00" stroke-linejoin="bevel"/>
<path d="M231.0 1750.7L249.3 1750.7L240.1 1768.7Z" fill="none" stroke="#616161" stroke-width="4.00" stroke-linejoin="bevel"/>
<path d="M370.9 1678.4L389.2 1678.4L380.0 1696.4Z" fill="none" stroke="#616161" stroke-width="4.00" stroke-linejoin="bevel"/>
<path d="M348.9 1683.1L367.2 1683.1L358.1 1701.1Z" fill="none" stroke="#616161" stroke-width="4.00" stroke-linejoin="bevel"/>
<path d="M359.2 1706.4L377.5 1706.4L368.4 1724.4Z" fill="none" stroke="#616161" stroke-width="4.00" stroke-linejoin="bevel"/>
<path d="M352.2 1713.4L370.5 1713.4L361.4 1731.4Z" fill="none" stroke="#616161" stroke-width="4.00" stroke-linejoin="bevel"/>
<path d="M359.2 1739.0L377.5 1739.0L368.4 1757.0Z" fill="none" stroke="#616161" stroke-width="4.00" stroke-linejoin="bevel"/>
<path d="M359.2 1750.7L377.5 1750.7L368.4 1768.7Z" fill="none" stroke="#616161" stroke-width="4.00" stroke-linejoin="bevel"/>
<path d="M356.9 1732.1L375.2 1732.1L366.0 1750.1Z" fill="none" stroke="#616161" stroke-width="4.00" stroke-linejoin="bevel"/>
<path d="M485.1 1494.3L503.4 1494.3L494.2 1512.3Z" fill="none" stroke="#616161" stroke-width="4.00" stroke-linejoin="bevel"/>
<path d="M485.1 1563.3L503.4 1563.3L494.2 1581.3Z" fill="none" stroke="#616161" stroke-width="4.00" stroke-linejoin="bevel"/>
<path d="M485.1 1601.5L503.4 1601.5L494.2 1619.5Z" fill="none" stroke="#616161" stroke-width="4.00" stroke-linejoin="bevel"/>
<path d="M499.1 1631.8L517.4 1631.8L508.2 1649.8Z" fill="none" stroke="#616161" stroke-width="4.00" stroke-linejoin="bevel"/>
<path d="M475.8 1638.8L494.1 1638.8L484.9 1656.8Z" fill="none" stroke="#616161" stroke-width="4.00" stroke-linejoin="bevel"/>
<path d="M470.2 1685.4L488.5 1685.4L479.3 1703.4Z" fill="none" stroke="#616161" stroke-width="4.00" stroke-linejoin="bevel"/>
<path d="M493.5 1699.4L511.8 1699.4L502.6 1717.4Z" fill="none" stroke="#616161" stroke-width="4.00" stroke-linejoin="bevel"/>
<path d="M482.8 1715.7L501.1 1715.7L491.9 1733.7Z" fill="none" stroke="#616161" stroke-width="4.00" stroke-linejoin="bevel"/>
<path d="M485.1 1732.1L503.4 1732.1L494.2 1750.1Z" fill="none" stroke="#616161" stroke-width="4.00" stroke-linejoin="bevel"/>
<path d="M482.8 1722.7L501.1 1722.7L491.9 1740.7Z" fill="none" stroke="#616161" stroke-width="4.00" stroke-linejoin="bevel"/>
<path d="M613.3 1484.9L631.6 1484.9L622.5 1502.9Z" fill="none" stroke="#616161" stroke-width="4.00" stroke-linejoin="bevel"/>
<path d="M613.3 1487.3L631.6 1487.3L622.5 1505.3Z" fill="none" stroke="#616161" stroke-width="4.00" stroke-linejoin="bevel"/>
<path d="M611.0 1510.6L629.3 1510.6L620.1 1528.6Z" fill="none" stroke="#616161" stroke-width="4.00" stroke-linejoin="bevel"/>
<path d="M625.0 1571.2L643.3 1571.2L634.1 1589.2Z" fill="none" stroke="#616161" stroke-width="4.00" stroke-linejoin="bevel"/>
<path d="M601.7 1589.8L620.0 1589.8L610.8 1607.8Z" fill="none" stroke="#616161" stroke-width="4.00" stroke-linejoin="bevel"/>
<path d="M615.7 1615.5L634.0 1615.5L624.8 1633.5Z" fill="none" stroke="#616161" stroke-width="4.00" stroke-linejoin="bevel"/>
<path d="M611.0 1629.5L629.3 1629.5L620.1 1647.5Z" fill="none" stroke="#616161" stroke-width="4.00" stroke-linejoin="bevel"/>
<path d="M611.0 1634.1L629.3 1634.1L620.1 1652.1Z" fill="none" stroke="#616161" stroke-width="4.00" stroke-linejoin="bevel"/>
<path d="M625.9 1685.4L644.2 1685.4L635.1 1703.4Z" fill="none" stroke="#616161" stroke-width="4.00" stroke-linejoin="bevel"/>
<path d="M604.0 1708.7L622.3 1708.7L613.1 1726.7Z" fill="none" stroke="#616161" stroke-width="4.00" stroke-linejoin="bevel"/>
<path d="M731.3 1533.0L749.6 1533.0L740.4 1551.0Z" fill="none" stroke="#616161" stroke-width="4.00" stroke-linejoin="bevel"/>
<path d="M753.2 1524.6L771.5 1524.6L762.4 1542.6Z" fill="none" stroke="#616161" stroke-width="4.00" stroke-linejoin="bevel"/>
<path d="M725.2 1599.2L743.5 1599.2L734.4 1617.2Z" fill="none" stroke="#616161" stroke-width="4.00" stroke-linejoin="bevel"/>
<path d="M747.1 1599.2L765.4 1599.2L756.3 1617.2Z" fill="none" stroke="#616161" stroke-width="4.00" stroke-linejoin="bevel"/>
<path d="M755.5 1623.9L773.8 1623.9L764.7 1641.9Z" fill="none" stroke="#616161" stroke-width="4.00" stroke-linejoin="bevel"/>
<path d="M725.2 1638.8L743.5 1638.8L734.4 1656.8Z" fill="none" stroke="#616161" stroke-width="4.00" stroke-linejoin="bevel"/>
<path d="M741.5 1650.5L759.8 1650.5L750.7 1668.5Z" fill="none" stroke="#616161" stroke-width="4.00" stroke-linejoin="bevel"/>
<path d="M739.2 1685.4L757.5 1685.4L748.4 1703.4Z" fill="none" stroke="#616161" stroke-width="4.00" stroke-linejoin="bevel"/>
<path d="M739.2 1725.1L757.5 1725.1L748.4 1743.1Z" fill="none" stroke="#616161" stroke-width="4.00" stroke-linejoin="bevel"/>
<path d="M866.5 1394.0L884.8 1394.0L875.7 1412.0Z" fill="none" stroke="#616161" stroke-width="4.00" stroke-linejoin="bevel"/>
<path d="M866.5 1457.0L884.8 1457.0L875.7 1475.0Z" fill="none" stroke="#616161" stroke-width="4.00" stroke-linejoin="bevel"/>
<path d="M867.4 1599.2L885.7 1599.2L876.6 1617.2Z" fill="none" stroke="#616161" stroke-width="4.00" stroke-linejoin="bevel"/>
<path d="M881.4 1630.4L899.7 1630.4L890.6 1648.4Z" fill="none" stroke="#616161" stroke-width="4.00" stroke-linejoin="bevel"/>
<path d="M859.0 1638.8L877.3 1638.8L868.2 1656.8Z" fill="none" stroke="#616161" stroke-width="4.00" stroke-linejoin="bevel"/>
<path d="M867.4 1650.5L885.7 1650.5L876.6 1668.5Z" fill="none" stroke="#616161" stroke-width="4.00" stroke-linejoin="bevel"/>
<path d="M861.8 1659.8L880.1 1659.8L871.0 1677.8Z" fill="none" stroke="#616161" stroke-width="4.00" stroke-linejoin="bevel"/>
<path d="M867.4 1669.1L885.7 1669.1L876.6 1687.1Z" fill="none" stroke="#616161" stroke-width="4.00" stroke-linejoin="bevel"/>
<path d="M880.5 1686.4L898.8 1686.4L889.6 1704.4Z" fill="none" stroke="#616161" stroke-width="4.00" stroke-linejoin="bevel"/>
<path d="M859.0 1701.7L877.3 1701.7L868.2 1719.7Z" fill="none" stroke="#616161" stroke-width="4.00" stroke-linejoin="bevel"/>
<line x1="159.32" y1="1740.51" x2="191.32" y2="1740.51" stroke="#000" stroke-width="5.00"/>
<line x1="167.12" y1="1734.44" x2="183.52" y2="1734.44" stroke="#000" stroke-width="5.00"/>
<line x1="167.12" y1="1746.57" x2="183.52" y2="1746.57" stroke="#000" stroke-width="5.00"/>
<line x1="175.32" y1="1734.44" x2="175.32" y2="1746.57" stroke="#000" stroke-width="5.00"/>
<line x1="223.20" y1="1747.50" x2="255.20" y2="1747.50" stroke="#000" stroke-width="5.00"/>
<line x1="231.00" y1="1742.84" x2="247.40" y2="1742.84" stroke="#000" stroke-width="5.00"/>
<line x1="231.00" y1="1752.16" x2="247.40" y2="1752.16" stroke="#000" stroke-width="5.00"/>
<line x1="239.20" y1="1742.84" x2="239.20" y2="1752.16" stroke="#000" stroke-width="5.00"/>
<line x1="288.47" y1="1716.26" x2="320.47" y2="1716.26" stroke="#000" stroke-width="5.00"/>
<line x1="296.27" y1="1705.54" x2="312.67" y2="1705.54" stroke="#000" stroke-width="5.00"/>
<line x1="296.27" y1="1726.52" x2="312.67" y2="1726.52" stroke="#000" stroke-width="5.00"/>
<line x1="304.47" y1="1705.54" x2="304.47" y2="1726.52" stroke="#000" stroke-width="5.00"/>
<line x1="352.35" y1="1731.18" x2="384.35" y2="1731.18" stroke="#000" stroke-width="5.00"/>
<line x1="360.15" y1="1723.25" x2="376.55" y2="1723.25" stroke="#000" stroke-width="5.00"/>
<line x1="360.15" y1="1739.57" x2="376.55" y2="1739.57" stroke="#000" stroke-width="5.00"/>
<line x1="368.35" y1="1723.25" x2="368.35" y2="1739.57" stroke="#000" stroke-width="5.00"/>
<line x1="413.90" y1="1634.66" x2="445.90" y2="1634.66" stroke="#000" stroke-width="5.00"/>
<line x1="421.70" y1="1606.69" x2="438.10" y2="1606.69" stroke="#000" stroke-width="5.00"/>
<line x1="421.70" y1="1662.17" x2="438.10" y2="1662.17" stroke="#000" stroke-width="5.00"/>
<line x1="429.90" y1="1606.69" x2="429.90" y2="1662.17" stroke="#000" stroke-width="5.00"/>
<line x1="478.25" y1="1657.98" x2="510.25" y2="1657.98" stroke="#000" stroke-width="5.00"/>
<line x1="486.05" y1="1634.20" x2="502.45" y2="1634.20" stroke="#000" stroke-width="5.00"/>
<line x1="486.05" y1="1682.22" x2="502.45" y2="1682.22" stroke="#000" stroke-width="5.00"/>
<line x1="494.25" y1="1634.20" x2="494.25" y2="1682.22" stroke="#000" stroke-width="5.00"/>
<line x1="542.13" y1="1602.96" x2="574.13" y2="1602.96" stroke="#000" stroke-width="5.00"/>
<line x1="549.93" y1="1580.58" x2="566.33" y2="1580.58" stroke="#000" stroke-width="5.00"/>
<line x1="549.93" y1="1626.27" x2="566.33" y2="1626.27" stroke="#000" stroke-width="5.00"/>
<line x1="558.13" y1="1580.58" x2="558.13" y2="1626.27" stroke="#000" stroke-width="5.00"/>
<line x1="605.07" y1="1601.56" x2="637.07" y2="1601.56" stroke="#000" stroke-width="5.00"/>
<line x1="612.87" y1="1576.38" x2="629.27" y2="1576.38" stroke="#000" stroke-width="5.00"/>
<line x1="612.87" y1="1627.67" x2="629.27" y2="1627.67" stroke="#000" stroke-width="5.00"/>
<line x1="621.07" y1="1576.38" x2="621.07" y2="1627.67" stroke="#000" stroke-width="5.00"/>
<line x1="668.48" y1="1580.58" x2="700.48" y2="1580.58" stroke="#000" stroke-width="5.00"/>
<line x1="676.28" y1="1557.26" x2="692.68" y2="1557.26" stroke="#000" stroke-width="5.00"/>
<line x1="676.28" y1="1603.89" x2="692.68" y2="1603.89" stroke="#000" stroke-width="5.00"/>
<line x1="684.48" y1="1557.26" x2="684.48" y2="1603.89" stroke="#000" stroke-width="5.00"/>
<line x1="733.30" y1="1633.26" x2="765.30" y2="1633.26" stroke="#000" stroke-width="5.00"/>
<line x1="741.10" y1="1613.21" x2="757.50" y2="1613.21" stroke="#000" stroke-width="5.00"/>
<line x1="741.10" y1="1652.85" x2="757.50" y2="1652.85" stroke="#000" stroke-width="5.00"/>
<line x1="749.30" y1="1613.21" x2="749.30" y2="1652.85" stroke="#000" stroke-width="5.00"/>
<line x1="796.71" y1="1594.56" x2="828.71" y2="1594.56" stroke="#000" stroke-width="5.00"/>
<line x1="804.51" y1="1564.72" x2="820.91" y2="1564.72" stroke="#000" stroke-width="5.00"/>
<line x1="804.51" y1="1624.87" x2="820.91" y2="1624.87" stroke="#000" stroke-width="5.00"/>
<line x1="812.71" y1="1564.72" x2="812.71" y2="1624.87" stroke="#000" stroke-width="5.00"/>
<line x1="860.59" y1="1619.28" x2="892.59" y2="1619.28" stroke="#000" stroke-width="5.00"/>
<line x1="868.39" y1="1585.70" x2="884.79" y2="1585.70" stroke="#000" stroke-width="5.00"/>
<line x1="868.39" y1="1651.91" x2="884.79" y2="1651.91" stroke="#000" stroke-width="5.00"/>
<line x1="876.59" y1="1585.70" x2="876.59" y2="1651.91" stroke="#000" stroke-width="5.00"/>
<text x="945.46" y="1224.30" font-size="60.00" textLength="42.34" lengthAdjust="spacingAndGlyphs" font-weight="bold" fill="#000" style="stroke:#000;stroke-width:1.5px">h</text>
<circle cx="1253.1" cy="1214.2" r="13.50" fill="none" stroke="#616161" stroke-width="5.90"/>
<text x="1282.63" y="1230.00" font-size="45.00" textLength="72.48" lengthAdjust="spacingAndGlyphs" fill="#000">Ctrl</text>
<path d="M1385.3 1206.4L1411.7 1206.4L1398.5 1232.4Z" fill="none" stroke="#616161" stroke-width="6.30" stroke-linejoin="bevel"/>
<text x="1426.55" y="1230.00" font-size="45.00" textLength="108.12" lengthAdjust="spacingAndGlyphs" fill="#000">TAC1</text>
<text x="1537.12" y="1215.00" font-size="27.00" textLength="64.98" lengthAdjust="spacingAndGlyphs" fill="#000">LBX1</text>
<text x="1605.41" y="1230.00" font-size="45.00" textLength="83.53" lengthAdjust="spacingAndGlyphs" fill="#000">-Abl</text>
<line x1="1102.20" y1="1308.50" x2="1102.20" y2="1751.90" stroke="#000" stroke-width="4.80"/>
<line x1="1089.30" y1="1749.20" x2="1633.30" y2="1749.20" stroke="#000" stroke-width="5.40"/>
<line x1="1088.70" y1="1312.80" x2="1102.20" y2="1312.80" stroke="#000" stroke-width="4.80"/>
<text x="1001.16" y="1333.65" font-size="49.00" textLength="81.75" lengthAdjust="spacingAndGlyphs">100</text>
<line x1="1088.70" y1="1400.14" x2="1102.20" y2="1400.14" stroke="#000" stroke-width="4.80"/>
<text x="1028.41" y="1415.75" font-size="49.00" textLength="54.50" lengthAdjust="spacingAndGlyphs">80</text>
<line x1="1088.70" y1="1487.48" x2="1102.20" y2="1487.48" stroke="#000" stroke-width="4.80"/>
<text x="1028.41" y="1504.25" font-size="49.00" textLength="54.50" lengthAdjust="spacingAndGlyphs">60</text>
<line x1="1088.70" y1="1574.82" x2="1102.20" y2="1574.82" stroke="#000" stroke-width="4.80"/>
<text x="1028.41" y="1590.65" font-size="49.00" textLength="54.50" lengthAdjust="spacingAndGlyphs">40</text>
<line x1="1088.70" y1="1662.16" x2="1102.20" y2="1662.16" stroke="#000" stroke-width="4.80"/>
<text x="1028.41" y="1682.75" font-size="49.00" textLength="54.50" lengthAdjust="spacingAndGlyphs">20</text>
<line x1="1088.70" y1="1749.50" x2="1102.20" y2="1749.50" stroke="#000" stroke-width="4.80"/>
<text x="1055.66" y="1766.85" font-size="49.00" textLength="27.25" lengthAdjust="spacingAndGlyphs">0</text>
<text transform="translate(984.50 1802.90) rotate(-90)" x="-0.95" y="0" font-size="45.00" textLength="537.47" lengthAdjust="spacingAndGlyphs">Time at test temperature (%)</text>
<text x="1270.27" y="1300.90" font-size="40.00" textLength="217.46" lengthAdjust="spacingAndGlyphs" fill="#000">Set at 30 °C</text>
<line x1="1153.60" y1="1312.00" x2="1598.00" y2="1312.00" stroke="#303030" stroke-width="6.40"/>
<text x="1153.75" y="1593.20" font-size="42.00" textLength="63.44" lengthAdjust="spacingAndGlyphs" fill="#000">NS</text>
<line x1="1140.80" y1="1603.30" x2="1231.90" y2="1603.30" stroke="#303030" stroke-width="6.40"/>
<text x="1323.15" y="1386.40" font-size="42.00" textLength="63.44" lengthAdjust="spacingAndGlyphs" fill="#000">NS</text>
<line x1="1309.00" y1="1403.20" x2="1399.60" y2="1403.20" stroke="#303030" stroke-width="6.40"/>
<text x="1509.21" y="1386.40" font-size="42.00" textLength="64.10" lengthAdjust="spacingAndGlyphs" fill="#000">NS</text>
<line x1="1496.30" y1="1403.20" x2="1586.90" y2="1403.20" stroke="#303030" stroke-width="6.40"/>
<text x="1148.93" y="1791.70" font-size="39.00" textLength="101.36" lengthAdjust="spacingAndGlyphs" fill="#000">15 °C</text>
<text x="1321.72" y="1791.70" font-size="39.00" textLength="101.06" lengthAdjust="spacingAndGlyphs" fill="#000">30 °C</text>
<text x="1495.34" y="1791.70" font-size="39.00" textLength="99.93" lengthAdjust="spacingAndGlyphs" fill="#000">40 °C</text>
<text x="1215.77" y="1849.50" font-size="43.00" textLength="332.42" lengthAdjust="spacingAndGlyphs" fill="#000">Test temperature</text>
<line x1="1687.50" y1="1308.50" x2="1687.50" y2="1751.90" stroke="#000" stroke-width="4.80"/>
<line x1="1676.30" y1="1749.20" x2="2008.90" y2="1749.20" stroke="#000" stroke-width="5.40"/>
<line x1="1674.00" y1="1312.80" x2="1687.50" y2="1312.80" stroke="#000" stroke-width="4.80"/>
<text x="1614.07" y="1333.64" font-size="45.00" textLength="55.06" lengthAdjust="spacingAndGlyphs">20</text>
<line x1="1674.00" y1="1400.14" x2="1687.50" y2="1400.14" stroke="#000" stroke-width="4.80"/>
<text x="1614.32" y="1418.44" font-size="45.00" textLength="55.06" lengthAdjust="spacingAndGlyphs">16</text>
<line x1="1674.00" y1="1487.48" x2="1687.50" y2="1487.48" stroke="#000" stroke-width="4.80"/>
<text x="1614.63" y="1506.84" font-size="45.00" textLength="55.06" lengthAdjust="spacingAndGlyphs">12</text>
<line x1="1674.00" y1="1574.82" x2="1687.50" y2="1574.82" stroke="#000" stroke-width="4.80"/>
<text x="1641.82" y="1591.64" font-size="45.00" textLength="27.53" lengthAdjust="spacingAndGlyphs">8</text>
<line x1="1674.00" y1="1662.16" x2="1687.50" y2="1662.16" stroke="#000" stroke-width="4.80"/>
<text x="1641.12" y="1679.34" font-size="45.00" textLength="27.53" lengthAdjust="spacingAndGlyphs">4</text>
<line x1="1674.00" y1="1749.50" x2="1687.50" y2="1749.50" stroke="#000" stroke-width="4.80"/>
<text x="1641.60" y="1766.34" font-size="45.00" textLength="27.53" lengthAdjust="spacingAndGlyphs">0</text>
<text x="1728.56" y="1256.20" font-size="40.00" textLength="105.84" lengthAdjust="spacingAndGlyphs" fill="#000">Set at</text>
<text x="1731.98" y="1304.10" font-size="40.00" textLength="100.95" lengthAdjust="spacingAndGlyphs" fill="#000">40 °C</text>
<line x1="1718.10" y1="1315.50" x2="1846.00" y2="1315.50" stroke="#303030" stroke-width="6.40"/>
<text x="1880.66" y="1256.20" font-size="40.00" textLength="105.63" lengthAdjust="spacingAndGlyphs" fill="#000">Set at</text>
<text x="1883.40" y="1304.10" font-size="40.00" textLength="102.15" lengthAdjust="spacingAndGlyphs" fill="#000">15 °C</text>
<line x1="1872.00" y1="1315.50" x2="1998.90" y2="1315.50" stroke="#303030" stroke-width="6.40"/>
<text x="1727.32" y="1383.60" font-size="42.00" textLength="63.99" lengthAdjust="spacingAndGlyphs" fill="#000">NS</text>
<line x1="1712.60" y1="1403.20" x2="1803.20" y2="1403.20" stroke="#303030" stroke-width="6.40"/>
<text x="1904.74" y="1632.30" font-size="42.00" textLength="62.01" lengthAdjust="spacingAndGlyphs" fill="#000">NS</text>
<line x1="1889.00" y1="1644.00" x2="1980.00" y2="1644.00" stroke="#303030" stroke-width="6.40"/>
<text x="1740.69" y="1791.70" font-size="39.00" textLength="100.94" lengthAdjust="spacingAndGlyphs" fill="#000">50 °C</text>
<text x="1902.22" y="1791.70" font-size="39.00" textLength="79.22" lengthAdjust="spacingAndGlyphs" fill="#000">0 °C</text>
<text x="1675.32" y="1849.50" font-size="43.00" textLength="332.72" lengthAdjust="spacingAndGlyphs" fill="#000">Test temperature</text>
<circle cx="1146.9" cy="1681.0" r="9.25" fill="none" stroke="#616161" stroke-width="4.00"/>
<circle cx="1162.0" cy="1699.5" r="9.25" fill="none" stroke="#616161" stroke-width="4.00"/>
<circle cx="1130.1" cy="1713.4" r="9.25" fill="none" stroke="#616161" stroke-width="4.00"/>
<circle cx="1142.4" cy="1719.0" r="9.25" fill="none" stroke="#616161" stroke-width="4.00"/>
<circle cx="1159.2" cy="1719.0" r="9.25" fill="none" stroke="#616161" stroke-width="4.00"/>
<circle cx="1134.0" cy="1731.3" r="9.25" fill="none" stroke="#616161" stroke-width="4.00"/>
<circle cx="1153.6" cy="1735.8" r="9.25" fill="none" stroke="#616161" stroke-width="4.00"/>
<circle cx="1160.3" cy="1741.4" r="9.25" fill="none" stroke="#616161" stroke-width="4.00"/>
<circle cx="1145.2" cy="1744.2" r="9.25" fill="none" stroke="#616161" stroke-width="4.00"/>
<circle cx="1150.8" cy="1748.1" r="9.25" fill="none" stroke="#616161" stroke-width="4.00"/>
<circle cx="1323.0" cy="1444.0" r="9.25" fill="none" stroke="#616161" stroke-width="4.00"/>
<circle cx="1323.0" cy="1480.3" r="9.25" fill="none" stroke="#616161" stroke-width="4.00"/>
<circle cx="1337.0" cy="1509.4" r="9.25" fill="none" stroke="#616161" stroke-width="4.00"/>
<circle cx="1295.0" cy="1516.1" r="9.25" fill="none" stroke="#616161" stroke-width="4.00"/>
<circle cx="1315.7" cy="1526.2" r="9.25" fill="none" stroke="#616161" stroke-width="4.00"/>
<circle cx="1340.9" cy="1540.1" r="9.25" fill="none" stroke="#616161" stroke-width="4.00"/>
<circle cx="1329.7" cy="1548.5" r="9.25" fill="none" stroke="#616161" stroke-width="4.00"/>
<circle cx="1307.3" cy="1556.9" r="9.25" fill="none" stroke="#616161" stroke-width="4.00"/>
<circle cx="1338.1" cy="1572.6" r="9.25" fill="none" stroke="#616161" stroke-width="4.00"/>
<circle cx="1323.0" cy="1583.2" r="9.25" fill="none" stroke="#616161" stroke-width="4.00"/>
<circle cx="1507.5" cy="1499.9" r="9.25" fill="none" stroke="#616161" stroke-width="4.00"/>
<circle cx="1493.5" cy="1537.3" r="9.25" fill="none" stroke="#616161" stroke-width="4.00"/>
<circle cx="1535.4" cy="1560.8" r="9.25" fill="none" stroke="#616161" stroke-width="4.00"/>
<circle cx="1521.5" cy="1587.7" r="9.25" fill="none" stroke="#616161" stroke-width="4.00"/>
<circle cx="1480.6" cy="1598.8" r="9.25" fill="none" stroke="#616161" stroke-width="4.00"/>
<circle cx="1494.6" cy="1608.9" r="9.25" fill="none" stroke="#616161" stroke-width="4.00"/>
<circle cx="1521.5" cy="1636.3" r="9.25" fill="none" stroke="#616161" stroke-width="4.00"/>
<circle cx="1521.5" cy="1699.5" r="9.25" fill="none" stroke="#616161" stroke-width="4.00"/>
<circle cx="1494.6" cy="1705.1" r="9.25" fill="none" stroke="#616161" stroke-width="4.00"/>
<circle cx="1514.2" cy="1705.1" r="9.25" fill="none" stroke="#616161" stroke-width="4.00"/>
<circle cx="1500.2" cy="1722.9" r="9.25" fill="none" stroke="#616161" stroke-width="4.00"/>
<circle cx="1714.3" cy="1589.3" r="9.25" fill="none" stroke="#616161" stroke-width="4.00"/>
<circle cx="1740.6" cy="1601.6" r="9.25" fill="none" stroke="#616161" stroke-width="4.00"/>
<circle cx="1728.3" cy="1643.6" r="9.25" fill="none" stroke="#616161" stroke-width="4.00"/>
<circle cx="1714.3" cy="1674.3" r="9.25" fill="none" stroke="#616161" stroke-width="4.00"/>
<circle cx="1740.6" cy="1685.5" r="9.25" fill="none" stroke="#616161" stroke-width="4.00"/>
<circle cx="1740.6" cy="1705.1" r="9.25" fill="none" stroke="#616161" stroke-width="4.00"/>
<circle cx="1714.3" cy="1712.3" r="9.25" fill="none" stroke="#616161" stroke-width="4.00"/>
<circle cx="1735.0" cy="1719.0" r="9.25" fill="none" stroke="#616161" stroke-width="4.00"/>
<circle cx="1721.0" cy="1730.2" r="9.25" fill="none" stroke="#616161" stroke-width="4.00"/>
<circle cx="1888.7" cy="1677.1" r="9.25" fill="none" stroke="#616161" stroke-width="4.00"/>
<circle cx="1916.7" cy="1679.9" r="9.25" fill="none" stroke="#616161" stroke-width="4.00"/>
<circle cx="1902.7" cy="1691.1" r="9.25" fill="none" stroke="#616161" stroke-width="4.00"/>
<circle cx="1888.7" cy="1701.1" r="9.25" fill="none" stroke="#616161" stroke-width="4.00"/>
<circle cx="1910.0" cy="1710.6" r="9.25" fill="none" stroke="#616161" stroke-width="4.00"/>
<circle cx="1891.5" cy="1721.8" r="9.25" fill="none" stroke="#616161" stroke-width="4.00"/>
<circle cx="1916.7" cy="1721.8" r="9.25" fill="none" stroke="#616161" stroke-width="4.00"/>
<circle cx="1902.7" cy="1727.4" r="9.25" fill="none" stroke="#616161" stroke-width="4.00"/>
<circle cx="1905.5" cy="1730.2" r="9.25" fill="none" stroke="#616161" stroke-width="4.00"/>
<path d="M1211.5 1642.4L1229.8 1642.4L1220.7 1660.4Z" fill="none" stroke="#616161" stroke-width="4.00" stroke-linejoin="bevel"/>
<path d="M1239.5 1635.1L1257.8 1635.1L1248.6 1653.1Z" fill="none" stroke="#616161" stroke-width="4.00" stroke-linejoin="bevel"/>
<path d="M1242.3 1672.6L1260.6 1672.6L1251.4 1690.6Z" fill="none" stroke="#616161" stroke-width="4.00" stroke-linejoin="bevel"/>
<path d="M1203.2 1691.0L1221.5 1691.0L1212.3 1709.0Z" fill="none" stroke="#616161" stroke-width="4.00" stroke-linejoin="bevel"/>
<path d="M1211.5 1705.0L1229.8 1705.0L1220.7 1723.0Z" fill="none" stroke="#616161" stroke-width="4.00" stroke-linejoin="bevel"/>
<path d="M1239.5 1702.2L1257.8 1702.2L1248.6 1720.2Z" fill="none" stroke="#616161" stroke-width="4.00" stroke-linejoin="bevel"/>
<path d="M1221.0 1721.8L1239.3 1721.8L1230.2 1739.8Z" fill="none" stroke="#616161" stroke-width="4.00" stroke-linejoin="bevel"/>
<path d="M1233.9 1724.6L1252.2 1724.6L1243.1 1742.6Z" fill="none" stroke="#616161" stroke-width="4.00" stroke-linejoin="bevel"/>
<path d="M1227.2 1732.9L1245.5 1732.9L1236.3 1750.9Z" fill="none" stroke="#616161" stroke-width="4.00" stroke-linejoin="bevel"/>
<path d="M1372.5 1453.4L1390.8 1453.4L1381.7 1471.4Z" fill="none" stroke="#616161" stroke-width="4.00" stroke-linejoin="bevel"/>
<path d="M1399.9 1480.3L1418.2 1480.3L1409.1 1498.3Z" fill="none" stroke="#616161" stroke-width="4.00" stroke-linejoin="bevel"/>
<path d="M1372.5 1523.3L1390.8 1523.3L1381.7 1541.3Z" fill="none" stroke="#616161" stroke-width="4.00" stroke-linejoin="bevel"/>
<path d="M1387.6 1523.3L1405.9 1523.3L1396.8 1541.3Z" fill="none" stroke="#616161" stroke-width="4.00" stroke-linejoin="bevel"/>
<path d="M1401.6 1523.3L1419.9 1523.3L1410.8 1541.3Z" fill="none" stroke="#616161" stroke-width="4.00" stroke-linejoin="bevel"/>
<path d="M1372.5 1554.0L1390.8 1554.0L1381.7 1572.0Z" fill="none" stroke="#616161" stroke-width="4.00" stroke-linejoin="bevel"/>
<path d="M1414.5 1568.0L1432.8 1568.0L1423.6 1586.0Z" fill="none" stroke="#616161" stroke-width="4.00" stroke-linejoin="bevel"/>
<path d="M1399.9 1587.6L1418.2 1587.6L1409.1 1605.6Z" fill="none" stroke="#616161" stroke-width="4.00" stroke-linejoin="bevel"/>
<path d="M1372.5 1597.1L1390.8 1597.1L1381.7 1615.1Z" fill="none" stroke="#616161" stroke-width="4.00" stroke-linejoin="bevel"/>
<path d="M1376.5 1542.9L1394.8 1542.9L1385.6 1560.9Z" fill="none" stroke="#616161" stroke-width="4.00" stroke-linejoin="bevel"/>
<path d="M1578.8 1422.7L1597.1 1422.7L1588.0 1440.7Z" fill="none" stroke="#616161" stroke-width="4.00" stroke-linejoin="bevel"/>
<path d="M1580.5 1545.7L1598.8 1545.7L1589.7 1563.7Z" fill="none" stroke="#616161" stroke-width="4.00" stroke-linejoin="bevel"/>
<path d="M1594.5 1621.1L1612.8 1621.1L1603.6 1639.1Z" fill="none" stroke="#616161" stroke-width="4.00" stroke-linejoin="bevel"/>
<path d="M1563.7 1629.5L1582.0 1629.5L1572.9 1647.5Z" fill="none" stroke="#616161" stroke-width="4.00" stroke-linejoin="bevel"/>
<path d="M1594.5 1642.4L1612.8 1642.4L1603.6 1660.4Z" fill="none" stroke="#616161" stroke-width="4.00" stroke-linejoin="bevel"/>
<path d="M1563.7 1659.1L1582.0 1659.1L1572.9 1677.1Z" fill="none" stroke="#616161" stroke-width="4.00" stroke-linejoin="bevel"/>
<path d="M1580.5 1668.7L1598.8 1668.7L1589.7 1686.7Z" fill="none" stroke="#616161" stroke-width="4.00" stroke-linejoin="bevel"/>
<path d="M1563.7 1687.1L1582.0 1687.1L1572.9 1705.1Z" fill="none" stroke="#616161" stroke-width="4.00" stroke-linejoin="bevel"/>
<path d="M1594.5 1696.6L1612.8 1696.6L1603.6 1714.6Z" fill="none" stroke="#616161" stroke-width="4.00" stroke-linejoin="bevel"/>
<path d="M1580.5 1707.8L1598.8 1707.8L1589.7 1725.8Z" fill="none" stroke="#616161" stroke-width="4.00" stroke-linejoin="bevel"/>
<path d="M1789.0 1429.4L1807.3 1429.4L1798.2 1447.4Z" fill="none" stroke="#616161" stroke-width="4.00" stroke-linejoin="bevel"/>
<path d="M1789.0 1625.6L1807.3 1625.6L1798.2 1643.6Z" fill="none" stroke="#616161" stroke-width="4.00" stroke-linejoin="bevel"/>
<path d="M1776.2 1649.1L1794.5 1649.1L1785.3 1667.1Z" fill="none" stroke="#616161" stroke-width="4.00" stroke-linejoin="bevel"/>
<path d="M1804.1 1651.9L1822.4 1651.9L1813.3 1669.9Z" fill="none" stroke="#616161" stroke-width="4.00" stroke-linejoin="bevel"/>
<path d="M1776.2 1677.0L1794.5 1677.0L1785.3 1695.0Z" fill="none" stroke="#616161" stroke-width="4.00" stroke-linejoin="bevel"/>
<path d="M1804.1 1679.8L1822.4 1679.8L1813.3 1697.8Z" fill="none" stroke="#616161" stroke-width="4.00" stroke-linejoin="bevel"/>
<path d="M1776.2 1692.7L1794.5 1692.7L1785.3 1710.7Z" fill="none" stroke="#616161" stroke-width="4.00" stroke-linejoin="bevel"/>
<path d="M1804.1 1692.7L1822.4 1692.7L1813.3 1710.7Z" fill="none" stroke="#616161" stroke-width="4.00" stroke-linejoin="bevel"/>
<path d="M1789.0 1707.8L1807.3 1707.8L1798.2 1725.8Z" fill="none" stroke="#616161" stroke-width="4.00" stroke-linejoin="bevel"/>
<path d="M1784.6 1710.6L1802.9 1710.6L1793.7 1728.6Z" fill="none" stroke="#616161" stroke-width="4.00" stroke-linejoin="bevel"/>
<path d="M1957.9 1663.1L1976.2 1663.1L1967.0 1681.1Z" fill="none" stroke="#616161" stroke-width="4.00" stroke-linejoin="bevel"/>
<path d="M1943.9 1693.8L1962.2 1693.8L1953.0 1711.8Z" fill="none" stroke="#616161" stroke-width="4.00" stroke-linejoin="bevel"/>
<path d="M1971.8 1699.4L1990.1 1699.4L1981.0 1717.4Z" fill="none" stroke="#616161" stroke-width="4.00" stroke-linejoin="bevel"/>
<path d="M1949.5 1705.0L1967.8 1705.0L1958.6 1723.0Z" fill="none" stroke="#616161" stroke-width="4.00" stroke-linejoin="bevel"/>
<path d="M1966.2 1710.6L1984.5 1710.6L1975.4 1728.6Z" fill="none" stroke="#616161" stroke-width="4.00" stroke-linejoin="bevel"/>
<path d="M1957.9 1719.0L1976.2 1719.0L1967.0 1737.0Z" fill="none" stroke="#616161" stroke-width="4.00" stroke-linejoin="bevel"/>
<path d="M1960.6 1727.3L1978.9 1727.3L1969.8 1745.3Z" fill="none" stroke="#616161" stroke-width="4.00" stroke-linejoin="bevel"/>
<path d="M1957.9 1732.9L1976.2 1732.9L1967.0 1750.9Z" fill="none" stroke="#616161" stroke-width="4.00" stroke-linejoin="bevel"/>
<line x1="1117.40" y1="1722.94" x2="1176.40" y2="1722.94" stroke="#000" stroke-width="5.00"/>
<line x1="1132.40" y1="1717.35" x2="1161.40" y2="1717.35" stroke="#000" stroke-width="5.00"/>
<line x1="1132.40" y1="1729.09" x2="1161.40" y2="1729.09" stroke="#000" stroke-width="5.00"/>
<line x1="1146.90" y1="1717.35" x2="1146.90" y2="1729.09" stroke="#000" stroke-width="5.00"/>
<line x1="1205.17" y1="1702.26" x2="1264.17" y2="1702.26" stroke="#000" stroke-width="5.00"/>
<line x1="1220.17" y1="1692.20" x2="1249.17" y2="1692.20" stroke="#000" stroke-width="5.00"/>
<line x1="1220.17" y1="1713.44" x2="1249.17" y2="1713.44" stroke="#000" stroke-width="5.00"/>
<line x1="1234.67" y1="1692.20" x2="1234.67" y2="1713.44" stroke="#000" stroke-width="5.00"/>
<line x1="1293.50" y1="1527.84" x2="1352.50" y2="1527.84" stroke="#000" stroke-width="5.00"/>
<line x1="1308.50" y1="1516.10" x2="1337.50" y2="1516.10" stroke="#000" stroke-width="5.00"/>
<line x1="1308.50" y1="1541.26" x2="1337.50" y2="1541.26" stroke="#000" stroke-width="5.00"/>
<line x1="1323.00" y1="1516.10" x2="1323.00" y2="1541.26" stroke="#000" stroke-width="5.00"/>
<line x1="1366.17" y1="1546.85" x2="1425.17" y2="1546.85" stroke="#000" stroke-width="5.00"/>
<line x1="1381.17" y1="1532.87" x2="1410.17" y2="1532.87" stroke="#000" stroke-width="5.00"/>
<line x1="1381.17" y1="1560.82" x2="1410.17" y2="1560.82" stroke="#000" stroke-width="5.00"/>
<line x1="1395.67" y1="1532.87" x2="1395.67" y2="1560.82" stroke="#000" stroke-width="5.00"/>
<line x1="1477.98" y1="1623.99" x2="1536.98" y2="1623.99" stroke="#000" stroke-width="5.00"/>
<line x1="1492.98" y1="1601.63" x2="1521.98" y2="1601.63" stroke="#000" stroke-width="5.00"/>
<line x1="1492.98" y1="1647.47" x2="1521.98" y2="1647.47" stroke="#000" stroke-width="5.00"/>
<line x1="1507.48" y1="1601.63" x2="1507.48" y2="1647.47" stroke="#000" stroke-width="5.00"/>
<line x1="1558.48" y1="1637.97" x2="1617.48" y2="1637.97" stroke="#000" stroke-width="5.00"/>
<line x1="1573.48" y1="1611.14" x2="1602.48" y2="1611.14" stroke="#000" stroke-width="5.00"/>
<line x1="1573.48" y1="1665.92" x2="1602.48" y2="1665.92" stroke="#000" stroke-width="5.00"/>
<line x1="1587.98" y1="1611.14" x2="1587.98" y2="1665.92" stroke="#000" stroke-width="5.00"/>
<line x1="1698.79" y1="1677.10" x2="1757.79" y2="1677.10" stroke="#000" stroke-width="5.00"/>
<line x1="1713.79" y1="1663.13" x2="1742.79" y2="1663.13" stroke="#000" stroke-width="5.00"/>
<line x1="1713.79" y1="1691.08" x2="1742.79" y2="1691.08" stroke="#000" stroke-width="5.00"/>
<line x1="1728.29" y1="1663.13" x2="1728.29" y2="1691.08" stroke="#000" stroke-width="5.00"/>
<line x1="1768.67" y1="1664.25" x2="1827.67" y2="1664.25" stroke="#000" stroke-width="5.00"/>
<line x1="1783.67" y1="1637.97" x2="1812.67" y2="1637.97" stroke="#000" stroke-width="5.00"/>
<line x1="1783.67" y1="1689.96" x2="1812.67" y2="1689.96" stroke="#000" stroke-width="5.00"/>
<line x1="1798.17" y1="1637.97" x2="1798.17" y2="1689.96" stroke="#000" stroke-width="5.00"/>
<line x1="1873.21" y1="1709.53" x2="1932.21" y2="1709.53" stroke="#000" stroke-width="5.00"/>
<line x1="1888.21" y1="1703.38" x2="1917.21" y2="1703.38" stroke="#000" stroke-width="5.00"/>
<line x1="1888.21" y1="1715.12" x2="1917.21" y2="1715.12" stroke="#000" stroke-width="5.00"/>
<line x1="1902.71" y1="1703.38" x2="1902.71" y2="1715.12" stroke="#000" stroke-width="5.00"/>
<line x1="1937.50" y1="1719.03" x2="1996.50" y2="1719.03" stroke="#000" stroke-width="5.00"/>
<line x1="1952.50" y1="1712.32" x2="1981.50" y2="1712.32" stroke="#000" stroke-width="5.00"/>
<line x1="1952.50" y1="1724.62" x2="1981.50" y2="1724.62" stroke="#000" stroke-width="5.00"/>
<line x1="1967.00" y1="1712.32" x2="1967.00" y2="1724.62" stroke="#000" stroke-width="5.00"/>
</svg>
</body></html>
